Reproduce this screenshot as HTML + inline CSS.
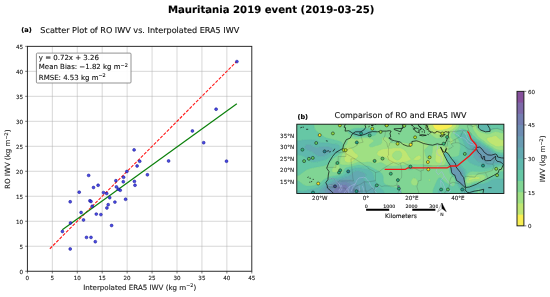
<!DOCTYPE html>
<html lang="en"><head><meta charset="utf-8"><title>Mauritania 2019 event (2019-03-25)</title>
<style>
html,body{margin:0;padding:0;background:#fff;}
body{width:550px;height:297px;overflow:hidden;}
svg{display:block;text-rendering:geometricPrecision;font-family:"DejaVu Sans","Liberation Sans",sans-serif;fill:#1a1a1a;}
.tk{font-size:5.6px;fill:#222;}
text{stroke:#222;stroke-width:0.12px;paint-order:stroke;}
</style></head><body>
<svg width="550" height="297" viewBox="0 0 550 297">
<rect width="550" height="297" fill="#fff"/>
<text x="271.2" y="12.5" font-size="10.12" font-weight="bold" text-anchor="middle" fill="#000">Mauritania 2019 event (2019-03-25)</text>

<g id="panel-a">
<text x="21.3" y="32.3" font-size="6.6" font-weight="bold" fill="#000">(a)</text>
<text x="139.8" y="32.55" font-size="8.1" text-anchor="middle" fill="#111">Scatter Plot of RO IWV vs. Interpolated ERA5 IWV</text>
<path d="M52.33 46.35V271.25M27.4 246.26H251.8M77.27 46.35V271.25M27.4 221.27H251.8M102.20 46.35V271.25M27.4 196.28H251.8M127.13 46.35V271.25M27.4 171.29H251.8M152.07 46.35V271.25M27.4 146.31H251.8M177.00 46.35V271.25M27.4 121.32H251.8M201.93 46.35V271.25M27.4 96.33H251.8M226.87 46.35V271.25M27.4 71.34H251.8" stroke="#b0b0b0" stroke-opacity="0.9" stroke-width="0.55" fill="none"/>
<path d="M49.84 248.76L236.84 61.34" stroke="#ff1a1a" stroke-width="1.1" stroke-dasharray="3.2 1.4" fill="none"/>
<path d="M62.31 229.77L236.84 103.82" stroke="#0a800a" stroke-width="1.2" fill="none"/>
<g fill="#2a2ae0" fill-opacity="0.85" stroke="#15158a" stroke-width="0.5">
<circle cx="88.65" cy="175.4" r="1.45"/>
<circle cx="93.5" cy="187.5" r="1.45"/>
<circle cx="98.1" cy="185.3" r="1.45"/>
<circle cx="79.2" cy="192.2" r="1.45"/>
<circle cx="115.9" cy="180.7" r="1.45"/>
<circle cx="116.4" cy="186.9" r="1.45"/>
<circle cx="103.5" cy="192.6" r="1.45"/>
<circle cx="106.7" cy="193.5" r="1.45"/>
<circle cx="70.2" cy="201.8" r="1.45"/>
<circle cx="89.9" cy="200.8" r="1.45"/>
<circle cx="91.0" cy="201.5" r="1.45"/>
<circle cx="92.2" cy="206.3" r="1.45"/>
<circle cx="81.1" cy="212.5" r="1.45"/>
<circle cx="83.5" cy="220.0" r="1.45"/>
<circle cx="70.5" cy="223.0" r="1.45"/>
<circle cx="62.4" cy="231.5" r="1.45"/>
<circle cx="96.3" cy="214.1" r="1.45"/>
<circle cx="100.9" cy="214.6" r="1.45"/>
<circle cx="106.9" cy="208.0" r="1.45"/>
<circle cx="108.2" cy="204.7" r="1.45"/>
<circle cx="114.9" cy="202.1" r="1.45"/>
<circle cx="109.7" cy="197.7" r="1.45"/>
<circle cx="111.6" cy="225.5" r="1.45"/>
<circle cx="86.5" cy="237.4" r="1.45"/>
<circle cx="91.0" cy="237.4" r="1.45"/>
<circle cx="95.3" cy="241.7" r="1.45"/>
<circle cx="70.2" cy="249.0" r="1.45"/>
<circle cx="139.7" cy="161.3" r="1.45"/>
<circle cx="137.1" cy="166.0" r="1.45"/>
<circle cx="168.6" cy="161.0" r="1.45"/>
<circle cx="126.9" cy="171.5" r="1.45"/>
<circle cx="147.4" cy="174.8" r="1.45"/>
<circle cx="123.6" cy="177.3" r="1.45"/>
<circle cx="123.3" cy="181.8" r="1.45"/>
<circle cx="134.4" cy="181.4" r="1.45"/>
<circle cx="135.0" cy="185.3" r="1.45"/>
<circle cx="120.2" cy="190.3" r="1.45"/>
<circle cx="134.1" cy="149.9" r="1.45"/>
<circle cx="236.9" cy="61.6" r="1.45"/>
<circle cx="216.1" cy="109.2" r="1.45"/>
<circle cx="192.4" cy="131.0" r="1.45"/>
<circle cx="203.7" cy="142.7" r="1.45"/>
<circle cx="226.5" cy="161.2" r="1.45"/>
<circle cx="125.6" cy="199.3" r="1.45"/>
<circle cx="118.3" cy="189.2" r="1.45"/>
</g>
<rect x="27.4" y="46.35" width="224.40" height="224.90" fill="none" stroke="#222" stroke-width="0.95"/>
<path d="M27.40 271.25v2.2M27.4 271.25h-2.2M52.33 271.25v2.2M27.4 246.26h-2.2M77.27 271.25v2.2M27.4 221.27h-2.2M102.20 271.25v2.2M27.4 196.28h-2.2M127.13 271.25v2.2M27.4 171.29h-2.2M152.07 271.25v2.2M27.4 146.31h-2.2M177.00 271.25v2.2M27.4 121.32h-2.2M201.93 271.25v2.2M27.4 96.33h-2.2M226.87 271.25v2.2M27.4 71.34h-2.2M251.80 271.25v2.2M27.4 46.35h-2.2" stroke="#222" stroke-width="0.6" fill="none"/>
<g class="tk" text-anchor="middle">
<text x="27.40" y="280.1">0</text>
<text x="52.33" y="280.1">5</text>
<text x="77.27" y="280.1">10</text>
<text x="102.20" y="280.1">15</text>
<text x="127.13" y="280.1">20</text>
<text x="152.07" y="280.1">25</text>
<text x="177.00" y="280.1">30</text>
<text x="201.93" y="280.1">35</text>
<text x="226.87" y="280.1">40</text>
<text x="251.80" y="280.1">45</text>
</g><g class="tk" text-anchor="end">
<text x="23" y="273.55">0</text>
<text x="23" y="248.56">5</text>
<text x="23" y="223.57">10</text>
<text x="23" y="198.58">15</text>
<text x="23" y="173.59">20</text>
<text x="23" y="148.61">25</text>
<text x="23" y="123.62">30</text>
<text x="23" y="98.63">35</text>
<text x="23" y="73.64">40</text>
<text x="23" y="48.65">45</text>
</g>
<text x="139.7" y="289.8" font-size="7.09" text-anchor="middle" fill="#222">Interpolated ERA5 IWV (kg m<tspan font-size="4.9" dy="-2.6">−2</tspan><tspan dy="2.6">)</tspan></text>
<text transform="translate(9.75 159.2) rotate(-90)" font-size="7.09" text-anchor="middle" fill="#222">RO IWV (kg m<tspan font-size="4.9" dy="-1.7">−2</tspan><tspan dy="1.7">)</tspan></text>
<rect x="36.4" y="53.1" width="94.6" height="29.9" rx="1.0" fill="#fff" fill-opacity="0.9" stroke="#808080" stroke-width="0.85"/>
<g font-size="7" fill="#111">
<text x="38.8" y="59.6">y = 0.72x + 3.26</text>
<text x="38.8" y="69.2">Mean Bias: −1.82 kg m<tspan font-size="4.9" dy="-2.6">−2</tspan></text>
<text x="38.8" y="79.9">RMSE: 4.53 kg m<tspan font-size="4.9" dy="-2.6">−2</tspan></text>
</g>
</g>
<g id="panel-b">
<text x="297.5" y="118.5" font-size="6.5" font-weight="bold" fill="#000">(b)</text>
<text x="400.5" y="118.2" font-size="8" text-anchor="middle" fill="#111">Comparison of RO and ERA5 IWV</text>
<clipPath id="mc"><rect x="296.8" y="124.2" width="207.10" height="69.30"/></clipPath>
<g clip-path="url(#mc)">
<filter id="bl" x="-5%" y="-5%" width="110%" height="110%"><feGaussianBlur stdDeviation="0.4"/></filter>
<rect x="280" y="110" width="240" height="100" fill="#80d594"/>
<g stroke-width="0.35" stroke-linejoin="round">
<path stroke="#f8ee52" d="M433.6 121.3L434.7 121.3L435.8 121.3L437.0 121.3L438.1 121.3L439.2 121.3L440.3 121.3L441.5 121.3L442.6 121.3L443.7 121.3L444.8 121.3L446.0 121.3L447.1 121.3L448.2 121.3L449.3 121.3L450.5 121.3L451.5 121.3L451.6 121.7L451.7 122.4L452.1 123.5L452.5 124.6L452.4 125.7L451.6 126.7L451.6 126.8L450.5 127.4L449.7 127.8L449.3 128.0L448.2 128.4L447.1 128.9L446.9 128.9L446.0 129.2L444.8 129.4L443.7 129.7L442.6 129.9L441.8 130.0L441.5 130.1L440.3 130.2L439.2 130.2L438.1 130.1L437.5 130.0L437.0 129.9L435.8 129.4L435.1 128.9L434.7 128.6L434.0 127.8L433.6 127.3L433.3 126.8L433.0 125.7L433.0 124.6L433.1 123.5L433.3 122.4L433.3 121.3Z" fill="#f8ee52" fill-rule="evenodd"/>
<path stroke="#bfe672" d="M429.1 121.3L430.2 121.3L431.3 121.3L432.4 121.3L433.3 121.3L433.3 122.4L433.1 123.5L433.0 124.6L433.0 125.7L433.3 126.8L433.6 127.3L434.0 127.8L434.7 128.6L435.1 128.9L435.8 129.4L437.0 129.9L437.5 130.0L438.1 130.1L439.2 130.2L440.3 130.2L441.5 130.1L441.8 130.0L442.6 129.9L443.7 129.7L444.8 129.4L446.0 129.2L446.9 128.9L447.1 128.9L448.2 128.4L449.3 128.0L449.7 127.8L450.5 127.4L451.6 126.8L451.6 126.7L452.4 125.7L452.5 124.6L452.1 123.5L451.7 122.4L451.6 121.7L451.5 121.3L451.6 121.3L452.7 121.3L453.8 121.3L455.0 121.3L455.9 121.3L456.1 122.4L456.1 122.5L456.3 123.5L456.4 124.6L456.4 125.7L456.1 126.5L456.0 126.8L455.0 127.8L455.0 127.9L453.8 128.7L453.5 128.9L452.7 129.4L451.7 130.0L451.6 130.1L450.5 130.8L450.1 131.1L449.3 131.7L448.5 132.2L448.2 132.4L447.1 133.0L446.1 133.3L446.0 133.3L444.8 133.6L443.7 133.8L442.6 134.0L441.5 134.2L440.9 134.4L440.3 134.5L439.2 134.7L438.1 134.8L437.0 134.6L436.3 134.4L435.8 134.2L434.7 133.7L434.1 133.3L433.6 132.9L432.6 132.2L432.4 132.0L431.5 131.1L431.3 130.9L430.6 130.0L430.2 129.5L429.8 128.9L429.2 127.8L429.1 127.6L428.7 126.8L428.5 125.7L428.5 124.6L428.6 123.5L428.7 122.4L428.8 121.3ZM492.1 136.4L493.3 136.0L494.4 135.6L495.5 135.5L496.6 136.1L497.2 136.5L497.8 137.1L498.3 137.6L498.9 138.3L499.5 138.7L500.0 139.1L501.1 139.6L502.2 139.8L502.3 139.8L503.4 139.9L504.3 139.8L504.5 139.8L505.7 139.7L506.8 139.6L506.8 139.8L506.8 140.9L506.8 142.0L506.8 143.1L506.8 144.2L506.8 145.2L506.8 146.1L505.7 146.1L504.5 146.0L503.4 145.9L502.3 146.0L501.1 146.1L500.5 146.3L500.0 146.4L498.9 146.7L497.8 146.8L496.6 146.7L495.5 146.4L495.5 146.3L494.4 145.8L493.4 145.2L493.3 145.2L492.1 144.5L491.6 144.2L491.0 143.8L489.9 143.1L489.8 143.1L488.8 142.2L488.5 142.0L487.6 141.1L487.5 140.9L486.8 139.8L486.5 139.0L486.4 138.7L486.5 138.4L487.1 137.6L487.6 137.5L488.8 137.2L489.9 137.0L491.0 136.7L491.6 136.5ZM348.0 147.4L349.1 147.3L349.7 147.4L350.2 147.6L351.4 148.2L351.7 148.5L352.5 149.4L352.7 149.6L353.5 150.7L353.6 150.9L354.3 151.8L354.7 152.3L355.4 152.9L355.9 153.3L356.9 154.0L357.0 154.1L358.0 155.0L358.1 155.4L358.3 156.1L358.1 156.5L357.7 157.2L357.0 157.8L356.5 158.3L355.9 158.7L355.2 159.4L354.7 159.7L354.0 160.5L353.6 160.8L352.7 161.6L352.5 161.7L351.4 162.2L350.2 162.6L349.6 162.7L349.1 162.7L348.0 162.7L347.8 162.7L346.9 162.4L345.7 161.9L345.2 161.6L344.6 160.7L344.5 160.5L344.3 159.4L344.2 158.3L344.3 157.2L344.5 156.1L344.5 155.0L344.6 154.0L344.6 153.5L344.6 152.9L344.8 151.8L345.0 150.7L345.4 149.6L345.7 149.0L346.1 148.5L346.9 147.8L347.8 147.4ZM385.1 148.5L386.3 148.4L387.4 148.3L388.5 148.3L389.7 148.2L390.8 148.2L391.9 148.2L393.0 148.1L394.2 148.1L395.3 148.0L396.4 147.9L397.5 147.8L398.7 147.8L399.8 147.9L400.9 148.1L402.0 148.5L402.1 148.5L403.2 149.1L404.0 149.6L404.3 149.8L405.3 150.7L405.4 150.8L406.2 151.8L406.5 152.2L406.9 152.9L407.5 154.0L407.7 154.3L408.0 155.0L408.7 156.1L408.8 156.3L409.5 157.2L409.9 157.8L410.6 158.3L411.0 159.0L412.0 159.4L411.0 159.6L409.9 160.2L409.7 160.5L408.8 160.8L407.7 161.2L407.0 161.6L406.5 161.7L405.4 162.0L404.3 162.3L403.2 162.5L402.0 162.6L400.9 162.5L399.8 162.3L398.7 162.2L397.5 162.2L396.4 162.4L395.7 162.7L395.3 162.7L394.2 162.9L393.0 163.0L391.9 162.9L390.8 162.7L390.7 162.7L389.7 162.0L389.1 161.6L388.5 160.9L388.2 160.5L387.5 159.4L387.4 159.3L386.5 158.3L386.3 158.1L385.1 157.5L384.3 157.2L384.0 157.1L382.9 156.9L381.8 156.8L380.6 156.6L379.5 156.4L378.7 156.1L378.4 156.0L377.3 155.0L377.3 155.0L376.9 154.0L377.0 152.9L377.3 152.3L377.5 151.8L378.4 150.8L378.5 150.7L379.5 150.1L380.4 149.6L380.6 149.5L381.8 149.2L382.9 148.9L384.0 148.7L385.0 148.5ZM395.0 151.8L394.2 152.4L393.7 152.9L393.0 153.8L392.9 154.0L392.4 155.0L392.4 156.1L393.0 157.2L393.0 157.3L393.9 158.3L394.2 158.5L395.3 159.3L395.4 159.4L396.4 160.0L397.5 160.2L398.7 159.8L399.2 159.4L399.8 158.9L400.3 158.3L400.9 157.5L401.1 157.2L401.6 156.1L401.8 155.0L401.7 154.0L401.3 152.9L400.9 152.3L400.3 151.8L399.8 151.4L398.7 151.0L397.5 150.9L396.4 151.1L395.3 151.6ZM439.2 148.5L439.7 148.5L440.3 148.5L441.5 148.8L442.6 149.2L443.2 149.6L443.7 150.1L444.1 150.7L444.4 151.8L444.3 152.9L444.2 154.0L444.0 155.0L443.8 156.1L443.7 157.2L443.7 158.3L443.7 158.5L443.6 159.4L443.4 160.5L443.0 161.6L442.6 162.0L441.7 162.7L441.5 162.8L440.3 163.0L439.2 163.1L438.1 163.0L437.0 162.7L436.9 162.7L435.8 161.8L435.7 161.6L435.2 160.5L435.1 159.4L435.2 158.3L435.3 157.2L435.4 156.1L435.5 155.0L435.5 154.0L435.5 152.9L435.7 151.8L435.8 151.1L435.9 150.7L436.6 149.6L437.0 149.3L438.1 148.7L439.1 148.5ZM416.7 156.1L417.8 155.5L418.9 155.3L420.1 155.6L420.6 156.1L421.0 157.2L420.9 158.3L420.3 159.4L420.1 159.6L418.9 160.1L417.8 160.4L417.1 160.5L416.7 160.5L415.6 160.5L415.5 160.5L414.4 160.2L413.3 159.6L412.4 159.4L413.3 159.1L414.1 158.3L414.4 158.1L415.4 157.2L415.6 157.1L416.6 156.1ZM477.5 176.8L477.6 176.8L478.6 176.9L479.7 177.3L480.5 177.9L479.7 178.8L479.6 179.0L478.6 179.2L477.5 179.3L476.4 179.4L475.2 179.4L474.1 179.4L473.0 179.5L471.9 179.8L471.4 180.1L470.7 180.3L469.6 180.5L468.5 180.1L468.5 180.1L468.5 179.6L468.5 179.0L469.5 177.9L469.6 177.8L470.7 177.5L471.9 177.4L473.0 177.4L474.1 177.2L475.2 177.0L476.4 176.8L477.2 176.8Z" fill="#bfe672" fill-rule="evenodd"/>
<path stroke="#9fe083" d="M425.7 121.3L426.8 121.3L427.9 121.3L428.8 121.3L428.7 122.4L428.6 123.5L428.5 124.6L428.5 125.7L428.7 126.8L429.1 127.6L429.2 127.8L429.8 128.9L430.2 129.5L430.6 130.0L431.3 130.9L431.5 131.1L432.4 132.0L432.6 132.2L433.6 132.9L434.1 133.3L434.7 133.7L435.8 134.2L436.3 134.4L437.0 134.6L438.1 134.8L439.2 134.7L440.3 134.5L440.9 134.4L441.5 134.2L442.6 134.0L443.7 133.8L444.8 133.6L446.0 133.3L446.1 133.3L447.1 133.0L448.2 132.4L448.5 132.2L449.3 131.7L450.1 131.1L450.5 130.8L451.6 130.1L451.7 130.0L452.7 129.4L453.5 128.9L453.8 128.7L455.0 127.9L455.0 127.8L456.0 126.8L456.1 126.5L456.4 125.7L456.4 124.6L456.3 123.5L456.1 122.5L456.1 122.4L455.9 121.3L456.1 121.3L457.2 121.3L458.3 121.3L458.9 121.3L459.0 122.4L459.2 123.5L459.4 124.6L459.3 125.7L459.0 126.8L458.3 127.6L458.2 127.8L457.2 128.7L456.9 128.9L456.1 129.5L455.3 130.0L455.0 130.2L453.8 131.0L453.7 131.1L452.7 132.0L452.5 132.2L451.7 133.3L451.6 133.5L451.1 134.4L450.8 135.5L450.7 136.5L451.0 137.6L451.6 138.2L452.2 138.7L452.7 139.2L453.2 139.8L453.5 140.9L453.2 142.0L452.7 142.8L452.4 143.1L451.6 143.8L450.9 144.2L450.5 144.4L450.0 144.2L449.7 143.1L449.7 142.0L449.7 140.9L449.7 139.8L449.4 138.7L449.3 138.6L448.3 137.6L448.2 137.6L447.1 137.2L446.0 137.0L444.8 136.8L443.7 136.9L442.6 137.1L441.5 137.4L440.9 137.6L440.3 137.9L439.2 138.3L438.1 138.6L437.0 138.6L435.8 138.3L434.8 137.6L434.7 137.6L433.6 136.8L433.2 136.5L432.4 136.0L431.8 135.5L431.3 135.0L430.6 134.4L430.2 133.9L429.7 133.3L429.1 132.5L428.8 132.2L427.9 131.1L427.9 131.1L427.0 130.0L426.8 129.7L426.1 128.9L425.7 128.3L425.4 127.8L424.9 126.8L424.7 125.7L424.7 124.6L424.7 123.5L424.9 122.4L424.9 121.3ZM473.0 121.3L474.1 121.3L475.2 121.3L476.4 121.3L476.4 121.3L476.4 121.6L476.3 122.4L476.2 123.5L476.2 124.6L476.2 125.7L476.4 126.8L476.4 126.8L476.6 127.8L477.0 128.9L477.5 129.5L477.8 130.0L478.6 130.8L479.0 131.1L479.7 131.5L480.9 132.0L481.3 132.2L482.0 132.4L483.1 132.8L484.3 133.1L485.1 133.3L485.4 133.4L486.5 133.6L487.6 133.8L488.8 133.8L489.9 133.6L490.7 133.3L491.0 133.2L492.1 132.6L493.1 132.2L493.3 132.1L494.4 131.7L495.5 131.5L496.6 131.6L497.8 131.8L498.9 132.1L499.2 132.2L500.0 132.5L501.1 132.9L502.3 133.1L503.4 133.1L504.5 133.1L505.7 133.0L506.8 133.0L506.8 133.3L506.8 134.4L506.8 135.5L506.8 136.5L506.8 137.6L506.8 138.7L506.8 139.6L505.7 139.7L504.5 139.8L504.3 139.8L503.4 139.9L502.3 139.8L502.2 139.8L501.1 139.6L500.0 139.1L499.5 138.7L498.9 138.3L498.3 137.6L497.8 137.1L497.2 136.5L496.6 136.1L495.5 135.5L494.4 135.6L493.3 136.0L492.1 136.4L491.6 136.5L491.0 136.7L489.9 137.0L488.8 137.2L487.6 137.5L487.1 137.6L486.5 138.4L486.4 138.7L486.5 139.0L486.8 139.8L487.5 140.9L487.6 141.1L488.5 142.0L488.8 142.2L489.8 143.1L489.9 143.1L491.0 143.8L491.6 144.2L492.1 144.5L493.3 145.2L493.4 145.2L494.4 145.8L495.5 146.3L495.5 146.4L496.6 146.7L497.8 146.8L498.9 146.7L500.0 146.4L500.5 146.3L501.1 146.1L502.3 146.0L503.4 145.9L504.5 146.0L505.7 146.1L506.8 146.1L506.8 146.3L506.8 147.4L506.8 148.5L506.8 149.6L506.8 150.1L505.7 150.1L504.5 150.1L503.4 150.1L502.3 150.1L501.1 150.1L500.0 150.1L498.9 150.1L497.8 149.9L496.6 149.6L496.5 149.6L495.5 149.2L494.4 148.5L494.4 148.5L493.3 147.7L492.8 147.4L492.1 146.9L491.2 146.3L491.0 146.2L489.9 145.5L489.4 145.2L488.8 144.9L487.6 144.2L487.6 144.2L486.5 143.4L486.1 143.1L485.4 142.5L484.8 142.0L484.3 141.5L483.5 140.9L483.1 140.6L482.0 139.8L481.9 139.8L480.9 139.1L480.3 138.7L479.7 138.3L478.8 137.6L478.6 137.4L477.8 136.5L477.5 136.2L477.0 135.5L476.4 134.5L476.3 134.4L475.6 133.3L475.2 132.7L474.9 132.2L474.1 131.1L474.1 131.1L473.4 130.0L473.0 129.1L472.9 128.9L472.5 127.8L472.3 126.8L472.2 125.7L472.2 124.6L472.2 123.5L472.3 122.4L472.3 121.3ZM382.9 137.3L384.0 136.9L385.1 136.7L386.3 136.9L387.4 137.4L387.8 137.6L388.5 138.3L388.9 138.7L389.5 139.8L389.7 140.4L389.8 140.9L390.4 142.0L390.8 142.3L391.9 142.8L393.0 143.0L394.2 142.9L395.3 142.8L396.4 142.7L397.5 142.6L398.7 142.5L399.8 142.4L400.9 142.3L402.0 142.3L403.2 142.4L404.3 142.6L405.4 142.9L406.2 143.1L406.5 143.1L407.7 143.3L408.8 143.2L409.1 143.1L409.9 142.8L411.0 142.3L411.6 142.0L412.2 141.7L413.3 141.3L414.4 141.0L414.7 140.9L415.6 140.7L416.7 140.5L417.8 140.3L418.9 140.2L420.1 140.2L421.2 140.4L422.3 140.7L422.9 140.9L423.4 141.2L424.6 141.8L424.9 142.0L425.7 142.6L426.5 143.1L426.8 143.4L427.9 144.1L428.0 144.2L428.9 145.2L428.5 146.3L427.9 146.8L427.3 147.4L426.8 147.8L426.0 148.5L425.7 148.8L424.8 149.6L424.6 150.5L424.5 150.7L424.6 150.9L424.7 151.8L425.0 152.9L425.2 154.0L425.5 155.0L425.7 155.7L425.9 156.1L426.4 157.2L426.8 158.0L427.2 158.3L427.9 158.8L429.1 158.7L429.6 158.3L430.2 157.9L430.6 157.2L431.3 156.1L431.3 156.0L431.6 155.0L431.9 154.0L432.1 152.9L432.2 151.8L432.3 150.7L432.4 149.6L432.4 148.5L432.4 147.6L432.5 147.4L433.0 146.3L433.6 146.0L434.7 145.7L435.8 145.5L437.0 145.5L438.1 145.6L439.2 145.7L440.3 145.8L441.5 146.0L442.6 146.1L443.7 146.2L444.8 146.2L446.0 146.2L447.1 146.2L448.2 146.3L448.3 146.3L448.7 147.4L448.8 148.5L448.7 149.6L448.7 150.7L448.5 151.8L448.3 152.9L448.2 153.0L447.9 154.0L447.5 155.0L447.1 156.1L447.1 156.2L446.8 157.2L446.5 158.3L446.3 159.4L446.1 160.5L446.0 161.6L446.0 161.6L445.7 162.7L445.4 163.7L444.8 164.6L444.6 164.8L443.7 165.4L442.6 165.7L441.5 165.9L441.1 165.9L440.3 166.1L439.2 166.2L438.1 166.4L437.0 166.5L435.8 166.6L434.7 166.7L433.6 166.7L432.4 166.6L431.3 166.3L430.4 165.9L430.2 165.8L429.1 165.3L428.0 164.8L427.9 164.8L426.8 164.5L425.7 164.4L424.6 164.4L423.4 164.5L422.3 164.6L421.2 164.6L420.1 164.7L418.9 164.7L417.8 164.7L416.7 164.7L415.6 164.7L414.4 164.6L413.3 164.5L412.2 164.4L411.0 164.3L409.9 164.3L408.8 164.3L407.7 164.5L406.5 164.7L405.6 164.8L405.4 164.9L404.3 165.1L403.2 165.3L402.0 165.4L400.9 165.6L399.8 165.6L398.7 165.7L397.5 165.8L396.4 165.9L395.6 165.9L395.3 165.9L394.2 166.0L393.0 166.1L391.9 166.1L390.8 166.1L389.7 166.1L388.5 165.9L388.5 165.9L387.4 165.7L386.3 165.3L385.3 164.8L385.1 164.7L384.0 164.0L383.7 163.7L382.9 163.3L381.8 162.8L381.1 162.7L380.6 162.6L379.5 162.6L379.4 162.7L378.4 162.9L377.3 163.2L376.1 163.4L375.0 163.4L373.9 163.3L372.8 163.0L371.8 162.7L371.6 162.6L370.5 162.2L369.4 162.0L368.3 162.0L367.1 162.1L366.0 162.3L364.9 162.5L363.7 162.6L362.6 162.6L361.5 162.5L360.4 162.3L359.2 162.2L358.1 162.2L357.0 162.5L356.5 162.7L355.9 162.9L354.7 163.4L354.0 163.7L353.6 163.9L352.5 164.3L351.4 164.6L350.3 164.8L350.2 164.8L349.1 165.0L348.0 165.0L346.9 165.0L345.7 165.0L344.6 165.0L343.5 164.9L342.4 164.9L341.9 164.8L341.2 164.8L340.1 164.5L339.7 163.7L339.7 162.7L339.7 161.6L339.8 160.5L340.0 159.4L340.1 159.2L340.3 158.3L340.7 157.2L341.2 156.1L341.2 156.1L341.7 155.0L342.1 154.0L342.4 153.4L342.5 152.9L342.8 151.8L343.1 150.7L343.4 149.6L343.5 149.3L343.8 148.5L344.2 147.4L344.6 146.6L344.8 146.3L345.5 145.2L345.7 144.9L346.4 144.2L346.9 143.3L347.1 143.1L347.4 142.0L347.6 140.9L347.9 139.8L348.0 139.6L348.7 138.7L349.1 138.5L350.2 138.1L351.4 138.1L352.5 138.3L353.6 138.5L354.4 138.7L354.7 138.8L355.9 139.1L357.0 139.1L358.1 138.9L358.7 138.7L359.2 138.6L360.4 138.3L361.5 138.1L362.6 137.9L363.7 137.8L364.9 137.7L366.0 137.8L367.1 137.9L368.3 138.1L369.4 138.3L370.5 138.6L371.3 138.7L371.6 138.9L372.8 139.4L373.5 139.8L373.8 140.9L373.1 142.0L372.8 142.3L371.6 143.1L371.6 143.1L370.5 143.9L370.1 144.2L369.4 145.0L369.2 145.2L369.4 146.0L369.5 146.3L370.5 146.8L371.6 146.8L372.8 146.7L373.9 146.4L374.1 146.3L375.0 146.0L376.1 145.6L377.3 145.3L377.5 145.2L378.4 144.9L379.5 144.5L380.2 144.2L380.6 143.9L381.5 143.1L381.8 142.3L381.9 142.0L381.8 140.9L381.8 140.7L381.7 139.8L381.8 139.0L381.8 138.7L382.5 137.6ZM347.8 147.4L346.9 147.8L346.1 148.5L345.7 149.0L345.4 149.6L345.0 150.7L344.8 151.8L344.6 152.9L344.6 153.5L344.6 154.0L344.5 155.0L344.5 156.1L344.3 157.2L344.2 158.3L344.3 159.4L344.5 160.5L344.6 160.7L345.2 161.6L345.7 161.9L346.9 162.4L347.8 162.7L348.0 162.7L349.1 162.7L349.6 162.7L350.2 162.6L351.4 162.2L352.5 161.7L352.7 161.6L353.6 160.8L354.0 160.5L354.7 159.7L355.2 159.4L355.9 158.7L356.5 158.3L357.0 157.8L357.7 157.2L358.1 156.5L358.3 156.1L358.1 155.4L358.0 155.0L357.0 154.1L356.9 154.0L355.9 153.3L355.4 152.9L354.7 152.3L354.3 151.8L353.6 150.9L353.5 150.7L352.7 149.6L352.5 149.4L351.7 148.5L351.4 148.2L350.2 147.6L349.7 147.4L349.1 147.3L348.0 147.4ZM385.0 148.5L384.0 148.7L382.9 148.9L381.8 149.2L380.6 149.5L380.4 149.6L379.5 150.1L378.5 150.7L378.4 150.8L377.5 151.8L377.3 152.3L377.0 152.9L376.9 154.0L377.3 155.0L377.3 155.0L378.4 156.0L378.7 156.1L379.5 156.4L380.6 156.6L381.8 156.8L382.9 156.9L384.0 157.1L384.3 157.2L385.1 157.5L386.3 158.1L386.5 158.3L387.4 159.3L387.5 159.4L388.2 160.5L388.5 160.9L389.1 161.6L389.7 162.0L390.7 162.7L390.8 162.7L391.9 162.9L393.0 163.0L394.2 162.9L395.3 162.7L395.7 162.7L396.4 162.4L397.5 162.2L398.7 162.2L399.8 162.3L400.9 162.5L402.0 162.6L403.2 162.5L404.3 162.3L405.4 162.0L406.5 161.7L407.0 161.6L407.7 161.2L408.8 160.8L409.7 160.5L409.9 160.2L411.0 159.6L412.0 159.4L411.0 159.0L410.6 158.3L409.9 157.8L409.5 157.2L408.8 156.3L408.7 156.1L408.0 155.0L407.7 154.3L407.5 154.0L406.9 152.9L406.5 152.2L406.2 151.8L405.4 150.8L405.3 150.7L404.3 149.8L404.0 149.6L403.2 149.1L402.1 148.5L402.0 148.5L400.9 148.1L399.8 147.9L398.7 147.8L397.5 147.8L396.4 147.9L395.3 148.0L394.2 148.1L393.0 148.1L391.9 148.2L390.8 148.2L389.7 148.2L388.5 148.3L387.4 148.3L386.3 148.4L385.1 148.5ZM439.1 148.5L438.1 148.7L437.0 149.3L436.6 149.6L435.9 150.7L435.8 151.1L435.7 151.8L435.5 152.9L435.5 154.0L435.5 155.0L435.4 156.1L435.3 157.2L435.2 158.3L435.1 159.4L435.2 160.5L435.7 161.6L435.8 161.8L436.9 162.7L437.0 162.7L438.1 163.0L439.2 163.1L440.3 163.0L441.5 162.8L441.7 162.7L442.6 162.0L443.0 161.6L443.4 160.5L443.6 159.4L443.7 158.5L443.7 158.3L443.7 157.2L443.8 156.1L444.0 155.0L444.2 154.0L444.3 152.9L444.4 151.8L444.1 150.7L443.7 150.1L443.2 149.6L442.6 149.2L441.5 148.8L440.3 148.5L439.7 148.5L439.2 148.5ZM416.6 156.1L415.6 157.1L415.4 157.2L414.4 158.1L414.1 158.3L413.3 159.1L412.4 159.4L413.3 159.6L414.4 160.2L415.5 160.5L415.6 160.5L416.7 160.5L417.1 160.5L417.8 160.4L418.9 160.1L420.1 159.6L420.3 159.4L420.9 158.3L421.0 157.2L420.6 156.1L420.1 155.6L418.9 155.3L417.8 155.5L416.7 156.1ZM395.3 151.6L396.4 151.1L397.5 150.9L398.7 151.0L399.8 151.4L400.3 151.8L400.9 152.3L401.3 152.9L401.7 154.0L401.8 155.0L401.6 156.1L401.1 157.2L400.9 157.5L400.3 158.3L399.8 158.9L399.2 159.4L398.7 159.8L397.5 160.2L396.4 160.0L395.4 159.4L395.3 159.3L394.2 158.5L393.9 158.3L393.0 157.3L393.0 157.2L392.4 156.1L392.4 155.0L392.9 154.0L393.0 153.8L393.7 152.9L394.2 152.4L395.0 151.8ZM335.6 164.7L336.7 164.3L337.8 164.4L339.0 164.6L339.6 164.8L339.7 165.9L339.8 167.0L339.8 168.1L339.8 169.2L339.5 170.3L339.0 171.3L338.9 171.4L337.8 172.1L336.9 172.5L336.7 172.5L335.6 172.6L334.5 172.6L333.5 172.5L333.3 172.4L332.2 171.7L331.8 171.4L331.7 170.3L332.1 169.2L332.2 168.9L332.7 168.1L333.3 167.1L333.4 167.0L334.2 165.9L334.5 165.6L335.4 164.8ZM471.9 174.6L473.0 174.5L474.1 174.4L475.2 174.4L476.4 174.4L477.5 174.4L478.6 174.4L479.7 174.4L480.9 174.5L481.8 174.6L482.0 174.6L483.1 174.8L484.3 175.2L485.1 175.7L485.4 176.3L485.5 176.8L485.4 177.3L485.3 177.9L484.6 179.0L484.3 179.3L483.2 180.1L483.1 180.1L482.0 180.5L480.9 180.8L479.7 181.0L478.6 181.1L478.4 181.2L477.5 181.2L476.4 181.3L475.2 181.4L474.1 181.6L473.0 181.9L471.9 182.2L471.9 182.3L470.7 182.8L469.6 183.3L469.4 183.3L468.5 183.6L467.4 183.5L467.1 183.3L466.2 182.3L466.2 182.2L466.1 181.2L466.1 180.1L466.2 179.1L466.3 179.0L466.7 177.9L467.3 176.8L467.4 176.7L468.3 175.7L468.5 175.6L469.6 175.0L470.7 174.7L471.4 174.6ZM477.2 176.8L476.4 176.8L475.2 177.0L474.1 177.2L473.0 177.4L471.9 177.4L470.7 177.5L469.6 177.8L469.5 177.9L468.5 179.0L468.5 179.6L468.5 180.1L468.5 180.1L469.6 180.5L470.7 180.3L471.4 180.1L471.9 179.8L473.0 179.5L474.1 179.4L475.2 179.4L476.4 179.4L477.5 179.3L478.6 179.2L479.6 179.0L479.7 178.8L480.5 177.9L479.7 177.3L478.6 176.9L477.6 176.8L477.5 176.8ZM414.4 177.9L414.6 177.9L415.6 178.2L416.4 179.0L416.7 179.4L417.1 180.1L417.6 181.2L417.8 181.7L418.0 182.2L418.0 183.3L417.8 183.9L417.6 184.4L416.7 185.1L415.9 185.5L415.6 185.6L414.4 185.7L413.3 185.6L413.1 185.5L412.2 185.0L411.6 184.4L411.1 183.3L411.0 183.0L411.0 182.2L411.0 181.3L411.1 181.2L411.4 180.1L412.0 179.0L412.2 178.8L413.3 178.0L414.1 177.9ZM429.1 178.8L429.7 179.0L430.2 179.3L430.4 180.1L430.2 181.1L430.1 181.2L429.1 181.3L428.9 181.2L428.5 180.1L428.9 179.0Z" fill="#9fe083" fill-rule="evenodd"/>
<path stroke="#80d594" d="M314.2 121.3L315.3 121.3L316.4 121.3L317.6 121.3L318.7 121.3L319.8 121.3L321.0 121.3L322.1 121.3L323.2 121.3L324.3 121.3L325.5 121.3L326.6 121.3L327.7 121.3L328.8 121.3L330.0 121.3L331.1 121.3L332.2 121.3L333.3 121.3L334.5 121.3L335.6 121.3L336.7 121.3L337.8 121.3L339.0 121.3L340.1 121.3L341.2 121.3L342.4 121.3L343.5 121.3L344.6 121.3L345.7 121.3L346.9 121.3L348.0 121.3L349.1 121.3L350.2 121.3L351.4 121.3L352.5 121.3L353.6 121.3L354.7 121.3L355.9 121.3L357.0 121.3L358.1 121.3L359.2 121.3L360.4 121.3L361.5 121.3L362.6 121.3L363.7 121.3L364.9 121.3L366.0 121.3L367.1 121.3L368.3 121.3L369.4 121.3L370.5 121.3L371.6 121.3L372.8 121.3L373.9 121.3L375.0 121.3L376.1 121.3L377.3 121.3L378.4 121.3L379.5 121.3L380.6 121.3L381.8 121.3L382.9 121.3L384.0 121.3L385.1 121.3L386.3 121.3L387.4 121.3L388.5 121.3L389.7 121.3L390.8 121.3L391.9 121.3L393.0 121.3L394.2 121.3L395.3 121.3L396.4 121.3L397.5 121.3L398.7 121.3L399.8 121.3L400.9 121.3L402.0 121.3L403.2 121.3L404.3 121.3L405.4 121.3L406.5 121.3L407.7 121.3L408.8 121.3L409.9 121.3L411.0 121.3L412.2 121.3L413.3 121.3L414.4 121.3L415.6 121.3L416.7 121.3L417.8 121.3L418.9 121.3L420.1 121.3L421.2 121.3L422.3 121.3L423.4 121.3L424.6 121.3L424.9 121.3L424.9 122.4L424.7 123.5L424.7 124.6L424.7 125.7L424.9 126.8L425.4 127.8L425.7 128.3L426.1 128.9L426.8 129.7L427.0 130.0L427.9 131.1L427.9 131.1L428.8 132.2L429.1 132.5L429.7 133.3L430.2 133.9L430.6 134.4L431.3 135.0L431.8 135.5L432.4 136.0L433.2 136.5L433.6 136.8L434.7 137.6L434.8 137.6L435.8 138.3L437.0 138.6L438.1 138.6L439.2 138.3L440.3 137.9L440.9 137.6L441.5 137.4L442.6 137.1L443.7 136.9L444.8 136.8L446.0 137.0L447.1 137.2L448.2 137.6L448.3 137.6L449.3 138.6L449.4 138.7L449.7 139.8L449.7 140.9L449.7 142.0L449.7 143.1L450.0 144.2L450.5 144.4L450.9 144.2L451.6 143.8L452.4 143.1L452.7 142.8L453.2 142.0L453.5 140.9L453.2 139.8L452.7 139.2L452.2 138.7L451.6 138.2L451.0 137.6L450.7 136.5L450.8 135.5L451.1 134.4L451.6 133.5L451.7 133.3L452.5 132.2L452.7 132.0L453.7 131.1L453.8 131.0L455.0 130.2L455.3 130.0L456.1 129.5L456.9 128.9L457.2 128.7L458.2 127.8L458.3 127.6L459.0 126.8L459.3 125.7L459.4 124.6L459.2 123.5L459.0 122.4L458.9 121.3L459.5 121.3L460.6 121.3L461.7 121.3L462.9 121.3L464.0 121.3L465.1 121.3L466.2 121.3L467.4 121.3L468.5 121.3L469.6 121.3L470.7 121.3L471.9 121.3L472.3 121.3L472.3 122.4L472.2 123.5L472.2 124.6L472.2 125.7L472.3 126.8L472.5 127.8L472.9 128.9L473.0 129.1L473.4 130.0L474.1 131.1L474.1 131.1L474.9 132.2L475.2 132.7L475.6 133.3L476.3 134.4L476.4 134.5L477.0 135.5L477.5 136.2L477.8 136.5L478.6 137.4L478.8 137.6L479.7 138.3L480.3 138.7L480.9 139.1L481.9 139.8L482.0 139.8L483.1 140.6L483.5 140.9L484.3 141.5L484.8 142.0L485.4 142.5L486.1 143.1L486.5 143.4L487.6 144.2L487.6 144.2L488.8 144.9L489.4 145.2L489.9 145.5L491.0 146.2L491.2 146.3L492.1 146.9L492.8 147.4L493.3 147.7L494.4 148.5L494.4 148.5L495.5 149.2L496.5 149.6L496.6 149.6L497.8 149.9L498.9 150.1L500.0 150.1L501.1 150.1L502.3 150.1L503.4 150.1L504.5 150.1L505.7 150.1L506.8 150.1L506.8 150.7L506.8 151.8L506.8 152.7L505.7 152.7L504.5 152.7L503.4 152.7L502.3 152.7L501.1 152.7L500.0 152.5L498.9 152.3L497.8 152.1L497.0 151.8L496.6 151.7L495.5 151.2L494.7 150.7L494.4 150.5L493.3 149.7L493.2 149.6L492.1 148.8L491.7 148.5L491.0 148.0L490.1 147.4L489.9 147.3L488.8 146.6L488.3 146.3L487.6 146.0L486.5 145.3L486.4 145.2L485.4 144.6L484.7 144.2L484.3 143.8L483.3 143.1L483.1 142.9L482.0 142.1L481.8 142.0L480.9 141.3L480.1 140.9L479.7 140.7L478.6 140.0L478.2 139.8L477.5 139.3L476.7 138.7L476.4 138.5L475.4 137.6L475.2 137.5L474.3 136.5L474.1 136.3L473.1 135.5L473.0 135.3L471.9 134.4L471.8 134.4L470.7 133.6L470.2 133.3L469.6 132.9L468.6 132.2L468.5 132.1L467.4 131.2L467.2 131.1L466.2 130.4L465.7 130.0L465.1 129.6L464.0 129.1L463.4 128.9L462.9 128.8L461.7 128.9L461.7 128.9L460.6 129.3L459.5 129.8L459.1 130.0L458.3 130.4L457.2 131.1L457.2 131.1L456.1 132.0L455.8 132.2L455.0 133.3L455.0 133.7L454.9 134.4L455.0 134.6L455.3 135.5L456.1 136.4L456.2 136.5L457.2 137.6L457.2 137.6L458.1 138.7L458.3 139.2L458.7 139.8L459.1 140.9L459.5 141.8L459.5 142.0L459.8 143.1L460.1 144.2L460.3 145.2L460.4 146.3L460.4 147.4L460.2 148.5L460.1 149.6L459.9 150.7L459.7 151.8L459.5 152.9L459.5 153.1L459.3 154.0L459.0 155.0L458.3 155.9L458.1 156.1L457.2 156.5L456.1 156.8L455.0 156.8L453.8 156.9L452.7 156.9L451.6 157.1L451.2 157.2L450.5 157.5L449.5 158.3L449.3 158.5L448.8 159.4L448.4 160.5L448.2 161.6L448.2 162.0L448.2 162.7L448.2 163.0L448.3 163.7L448.4 164.8L448.7 165.9L448.9 167.0L449.2 168.1L449.3 169.1L449.3 169.2L449.4 170.3L449.6 171.4L449.7 172.5L450.1 173.5L450.5 174.1L450.8 174.6L451.6 175.4L451.9 175.7L452.7 176.4L453.1 176.8L453.8 177.5L454.1 177.9L454.7 179.0L455.0 179.6L455.1 180.1L455.2 181.2L455.3 182.2L455.2 183.3L455.0 184.4L455.0 184.4L454.4 185.5L453.8 186.3L452.7 186.6L451.6 186.3L450.5 185.7L450.2 185.5L449.3 185.0L448.5 184.4L448.2 184.2L447.1 183.6L446.7 183.3L446.0 182.8L445.1 182.2L444.8 182.0L443.8 181.2L443.7 181.0L442.8 180.1L442.6 179.8L441.8 179.0L441.5 178.6L440.4 177.9L440.3 177.9L439.4 177.9L439.2 177.9L438.1 178.8L438.0 179.0L437.4 180.1L437.0 180.7L436.8 181.2L436.3 182.2L435.8 183.3L435.8 183.3L435.4 184.4L434.9 185.5L434.7 186.1L434.5 186.6L434.0 187.7L433.6 188.8L433.6 188.9L433.2 189.9L433.0 190.9L432.8 192.0L432.8 193.1L432.9 194.2L432.9 195.3L433.0 196.4L432.4 196.4L431.3 196.4L430.2 196.4L429.1 196.4L427.9 196.4L426.8 196.4L425.7 196.4L424.6 196.4L423.4 196.4L422.3 196.4L421.2 196.4L420.1 196.4L418.9 196.4L417.8 196.4L416.7 196.4L415.6 196.4L414.4 196.4L413.3 196.4L412.2 196.4L411.0 196.4L409.9 196.4L408.8 196.4L407.7 196.4L406.5 196.4L405.4 196.4L404.3 196.4L403.2 196.4L402.0 196.4L401.1 196.4L401.1 195.3L401.3 194.2L401.4 193.1L401.3 192.0L401.1 190.9L400.9 190.6L400.4 189.9L399.8 189.3L398.9 188.8L398.7 188.7L397.5 188.3L396.4 188.0L395.3 187.8L394.9 187.7L394.2 187.5L393.0 187.3L391.9 187.0L390.8 186.7L390.6 186.6L389.7 186.3L388.5 185.8L387.6 185.5L387.4 185.4L386.3 184.8L385.5 184.4L385.1 184.2L384.2 183.3L384.0 183.1L383.6 182.2L383.4 181.2L383.3 180.1L383.4 179.0L383.3 177.9L383.2 176.8L382.9 175.7L382.9 175.7L382.4 174.6L381.8 173.7L381.7 173.5L380.6 172.5L380.5 172.5L379.5 171.7L378.9 171.4L378.4 171.1L377.3 170.5L376.9 170.3L376.1 169.9L375.0 169.3L374.8 169.2L373.9 168.7L373.0 168.1L372.8 168.0L371.6 167.4L371.0 167.0L370.5 166.8L369.4 166.3L368.3 166.1L367.3 165.9L367.1 165.9L366.0 165.8L364.9 165.8L363.7 165.7L362.6 165.6L361.5 165.4L360.4 165.3L359.2 165.1L358.1 165.1L357.0 165.2L355.9 165.5L354.7 165.8L354.3 165.9L353.6 166.1L352.5 166.4L351.4 166.7L350.2 166.9L349.4 167.0L349.1 167.1L348.0 167.3L346.9 167.6L345.7 168.0L345.6 168.1L344.6 169.1L344.5 169.2L344.0 170.3L343.5 171.3L343.5 171.4L342.8 172.5L342.4 173.0L341.7 173.5L341.2 173.9L340.1 174.5L339.8 174.6L339.0 174.9L337.8 175.2L336.7 175.4L335.6 175.6L335.0 175.7L334.5 175.8L333.3 176.0L332.2 176.2L331.1 176.4L330.0 176.7L329.6 176.8L328.8 177.1L327.7 177.5L327.0 177.9L326.6 178.1L325.5 178.8L325.1 179.0L324.3 179.5L323.5 180.1L323.2 180.3L322.2 181.2L322.1 181.2L321.0 182.2L320.9 182.2L319.8 183.1L319.5 183.3L318.7 183.8L317.7 184.4L317.6 184.5L316.4 184.9L315.3 185.2L314.2 185.5L314.1 185.5L313.1 185.7L311.9 185.8L310.8 185.9L309.7 186.0L308.6 186.0L307.4 186.0L306.3 185.9L305.2 185.6L304.8 185.5L304.1 185.2L302.9 184.6L302.7 184.4L301.8 183.7L301.3 183.3L300.7 182.7L300.1 182.2L299.6 181.6L298.8 181.2L298.4 180.9L297.3 180.7L296.2 181.0L295.7 181.2L295.0 181.3L293.9 181.5L293.9 181.2L293.9 180.1L293.9 179.0L293.9 177.9L293.9 176.8L293.9 175.7L293.9 175.0L295.0 175.1L296.2 175.3L297.3 175.5L298.4 175.4L299.6 174.9L299.8 174.6L300.7 174.1L301.3 173.5L301.8 173.2L302.8 172.5L302.9 172.3L304.1 171.5L304.2 171.4L305.2 170.7L305.7 170.3L306.3 169.9L307.4 169.3L307.7 169.2L308.6 168.9L309.7 168.5L310.8 168.2L311.3 168.1L311.9 167.9L313.1 167.7L314.2 167.5L315.3 167.3L316.4 167.0L316.7 167.0L317.6 166.9L318.7 166.7L319.8 166.5L321.0 166.3L322.1 166.1L322.9 165.9L323.2 165.9L324.3 165.6L325.5 165.2L326.5 164.8L326.6 164.8L327.7 164.2L328.2 163.7L328.8 163.3L329.4 162.7L330.0 162.0L330.3 161.6L331.1 160.5L331.1 160.5L332.1 159.4L332.2 159.2L333.2 158.3L333.3 158.2L334.5 157.4L334.8 157.2L335.6 156.8L336.7 156.2L336.8 156.1L337.8 155.5L338.4 155.0L339.0 154.6L339.6 154.0L340.1 153.4L340.4 152.9L341.0 151.8L341.2 151.2L341.4 150.7L341.7 149.6L342.0 148.5L342.2 147.4L342.4 146.5L342.4 146.3L342.5 145.2L342.5 144.2L342.4 143.7L342.1 143.1L341.2 142.0L341.2 142.0L340.1 141.4L339.0 141.0L338.4 140.9L337.8 140.7L336.7 140.5L335.6 140.2L334.5 139.9L333.9 139.8L333.3 139.6L332.2 139.3L331.1 139.1L330.0 138.8L329.4 138.7L328.8 138.6L327.7 138.3L326.6 138.0L325.6 137.6L325.5 137.6L324.3 137.0L323.6 136.5L323.2 136.3L322.1 135.5L322.1 135.4L321.0 134.5L320.8 134.4L319.8 133.7L319.2 133.3L318.7 132.9L317.7 132.2L317.6 132.1L316.4 131.2L316.4 131.1L315.5 130.0L315.3 129.8L314.8 128.9L314.4 127.8L314.2 127.2L314.1 126.8L314.0 125.7L314.0 124.6L314.0 123.5L314.1 122.4L314.1 121.3ZM352.5 128.9L352.5 128.9L351.4 129.4L350.2 129.9L350.0 130.0L349.1 130.7L348.6 131.1L348.2 132.2L348.7 133.3L349.1 133.6L350.2 134.4L350.2 134.4L351.4 135.0L352.2 135.5L352.5 135.6L353.6 136.1L354.7 136.5L354.8 136.5L355.9 136.9L357.0 137.0L358.1 137.0L359.2 136.9L360.4 136.8L361.5 136.6L361.7 136.5L362.6 136.4L363.7 136.3L364.9 136.3L366.0 136.2L367.1 136.2L368.3 136.2L369.4 136.2L370.5 136.2L371.6 136.1L372.8 135.9L373.9 135.6L374.3 135.5L375.0 135.1L376.0 134.4L376.1 134.1L376.7 133.3L376.8 132.2L376.5 131.1L376.1 130.6L375.5 130.0L375.0 129.7L373.9 129.2L372.9 128.9L372.8 128.9L371.6 128.7L370.5 128.5L369.4 128.4L368.3 128.3L367.1 128.2L366.0 128.2L364.9 128.1L363.7 128.1L362.6 128.1L361.5 128.0L360.4 128.0L359.2 128.1L358.1 128.1L357.0 128.1L355.9 128.2L354.7 128.4L353.6 128.6ZM382.5 137.6L381.8 138.7L381.8 139.0L381.7 139.8L381.8 140.7L381.8 140.9L381.9 142.0L381.8 142.3L381.5 143.1L380.6 143.9L380.2 144.2L379.5 144.5L378.4 144.9L377.5 145.2L377.3 145.3L376.1 145.6L375.0 146.0L374.1 146.3L373.9 146.4L372.8 146.7L371.6 146.8L370.5 146.8L369.5 146.3L369.4 146.0L369.2 145.2L369.4 145.0L370.1 144.2L370.5 143.9L371.6 143.1L371.6 143.1L372.8 142.3L373.1 142.0L373.8 140.9L373.5 139.8L372.8 139.4L371.6 138.9L371.3 138.7L370.5 138.6L369.4 138.3L368.3 138.1L367.1 137.9L366.0 137.8L364.9 137.7L363.7 137.8L362.6 137.9L361.5 138.1L360.4 138.3L359.2 138.6L358.7 138.7L358.1 138.9L357.0 139.1L355.9 139.1L354.7 138.8L354.4 138.7L353.6 138.5L352.5 138.3L351.4 138.1L350.2 138.1L349.1 138.5L348.7 138.7L348.0 139.6L347.9 139.8L347.6 140.9L347.4 142.0L347.1 143.1L346.9 143.3L346.4 144.2L345.7 144.9L345.5 145.2L344.8 146.3L344.6 146.6L344.2 147.4L343.8 148.5L343.5 149.3L343.4 149.6L343.1 150.7L342.8 151.8L342.5 152.9L342.4 153.4L342.1 154.0L341.7 155.0L341.2 156.1L341.2 156.1L340.7 157.2L340.3 158.3L340.1 159.2L340.0 159.4L339.8 160.5L339.7 161.6L339.7 162.7L339.7 163.7L340.1 164.5L341.2 164.8L341.9 164.8L342.4 164.9L343.5 164.9L344.6 165.0L345.7 165.0L346.9 165.0L348.0 165.0L349.1 165.0L350.2 164.8L350.3 164.8L351.4 164.6L352.5 164.3L353.6 163.9L354.0 163.7L354.7 163.4L355.9 162.9L356.5 162.7L357.0 162.5L358.1 162.2L359.2 162.2L360.4 162.3L361.5 162.5L362.6 162.6L363.7 162.6L364.9 162.5L366.0 162.3L367.1 162.1L368.3 162.0L369.4 162.0L370.5 162.2L371.6 162.6L371.8 162.7L372.8 163.0L373.9 163.3L375.0 163.4L376.1 163.4L377.3 163.2L378.4 162.9L379.4 162.7L379.5 162.6L380.6 162.6L381.1 162.7L381.8 162.8L382.9 163.3L383.7 163.7L384.0 164.0L385.1 164.7L385.3 164.8L386.3 165.3L387.4 165.7L388.5 165.9L388.5 165.9L389.7 166.1L390.8 166.1L391.9 166.1L393.0 166.1L394.2 166.0L395.3 165.9L395.6 165.9L396.4 165.9L397.5 165.8L398.7 165.7L399.8 165.6L400.9 165.6L402.0 165.4L403.2 165.3L404.3 165.1L405.4 164.9L405.6 164.8L406.5 164.7L407.7 164.5L408.8 164.3L409.9 164.3L411.0 164.3L412.2 164.4L413.3 164.5L414.4 164.6L415.6 164.7L416.7 164.7L417.8 164.7L418.9 164.7L420.1 164.7L421.2 164.6L422.3 164.6L423.4 164.5L424.6 164.4L425.7 164.4L426.8 164.5L427.9 164.8L428.0 164.8L429.1 165.3L430.2 165.8L430.4 165.9L431.3 166.3L432.4 166.6L433.6 166.7L434.7 166.7L435.8 166.6L437.0 166.5L438.1 166.4L439.2 166.2L440.3 166.1L441.1 165.9L441.5 165.9L442.6 165.7L443.7 165.4L444.6 164.8L444.8 164.6L445.4 163.7L445.7 162.7L446.0 161.6L446.0 161.6L446.1 160.5L446.3 159.4L446.5 158.3L446.8 157.2L447.1 156.2L447.1 156.1L447.5 155.0L447.9 154.0L448.2 153.0L448.3 152.9L448.5 151.8L448.7 150.7L448.7 149.6L448.8 148.5L448.7 147.4L448.3 146.3L448.2 146.3L447.1 146.2L446.0 146.2L444.8 146.2L443.7 146.2L442.6 146.1L441.5 146.0L440.3 145.8L439.2 145.7L438.1 145.6L437.0 145.5L435.8 145.5L434.7 145.7L433.6 146.0L433.0 146.3L432.5 147.4L432.4 147.6L432.4 148.5L432.4 149.6L432.3 150.7L432.2 151.8L432.1 152.9L431.9 154.0L431.6 155.0L431.3 156.0L431.3 156.1L430.6 157.2L430.2 157.9L429.6 158.3L429.1 158.7L427.9 158.8L427.2 158.3L426.8 158.0L426.4 157.2L425.9 156.1L425.7 155.7L425.5 155.0L425.2 154.0L425.0 152.9L424.7 151.8L424.6 150.9L424.5 150.7L424.6 150.5L424.8 149.6L425.7 148.8L426.0 148.5L426.8 147.8L427.3 147.4L427.9 146.8L428.5 146.3L428.9 145.2L428.0 144.2L427.9 144.1L426.8 143.4L426.5 143.1L425.7 142.6L424.9 142.0L424.6 141.8L423.4 141.2L422.9 140.9L422.3 140.7L421.2 140.4L420.1 140.2L418.9 140.2L417.8 140.3L416.7 140.5L415.6 140.7L414.7 140.9L414.4 141.0L413.3 141.3L412.2 141.7L411.6 142.0L411.0 142.3L409.9 142.8L409.1 143.1L408.8 143.2L407.7 143.3L406.5 143.1L406.2 143.1L405.4 142.9L404.3 142.6L403.2 142.4L402.0 142.3L400.9 142.3L399.8 142.4L398.7 142.5L397.5 142.6L396.4 142.7L395.3 142.8L394.2 142.9L393.0 143.0L391.9 142.8L390.8 142.3L390.4 142.0L389.8 140.9L389.7 140.4L389.5 139.8L388.9 138.7L388.5 138.3L387.8 137.6L387.4 137.4L386.3 136.9L385.1 136.7L384.0 136.9L382.9 137.3ZM335.4 164.8L334.5 165.6L334.2 165.9L333.4 167.0L333.3 167.1L332.7 168.1L332.2 168.9L332.1 169.2L331.7 170.3L331.8 171.4L332.2 171.7L333.3 172.4L333.5 172.5L334.5 172.6L335.6 172.6L336.7 172.5L336.9 172.5L337.8 172.1L338.9 171.4L339.0 171.3L339.5 170.3L339.8 169.2L339.8 168.1L339.8 167.0L339.7 165.9L339.6 164.8L339.0 164.6L337.8 164.4L336.7 164.3L335.6 164.7ZM408.3 168.1L407.7 168.9L407.5 169.2L407.7 169.3L408.8 169.6L409.9 169.8L411.0 169.7L412.2 169.3L412.4 169.2L412.2 169.0L411.2 168.1L411.0 168.1L409.9 168.0L408.8 168.0ZM414.1 177.9L413.3 178.0L412.2 178.8L412.0 179.0L411.4 180.1L411.1 181.2L411.0 181.3L411.0 182.2L411.0 183.0L411.1 183.3L411.6 184.4L412.2 185.0L413.1 185.5L413.3 185.6L414.4 185.7L415.6 185.6L415.9 185.5L416.7 185.1L417.6 184.4L417.8 183.9L418.0 183.3L418.0 182.2L417.8 181.7L417.6 181.2L417.1 180.1L416.7 179.4L416.4 179.0L415.6 178.2L414.6 177.9L414.4 177.9ZM428.9 179.0L428.5 180.1L428.9 181.2L429.1 181.3L430.1 181.2L430.2 181.1L430.4 180.1L430.2 179.3L429.7 179.0L429.1 178.8ZM476.4 121.6L476.4 121.3L477.5 121.3L478.6 121.3L479.7 121.3L479.8 121.3L479.7 122.3L479.7 122.4L479.7 123.5L479.6 124.6L479.6 125.7L479.7 126.6L479.8 126.8L480.1 127.8L480.9 128.9L480.9 128.9L482.0 129.9L482.2 130.0L483.1 130.5L484.3 130.8L485.4 131.1L485.7 131.1L486.5 131.2L487.6 131.2L488.5 131.1L488.8 131.1L489.9 130.7L491.0 130.2L491.5 130.0L492.1 129.7L493.3 129.3L494.4 129.0L494.8 128.9L495.5 128.8L496.6 128.8L497.8 128.9L498.2 128.9L498.9 129.0L500.0 129.2L501.1 129.3L502.3 129.4L503.4 129.4L504.5 129.4L505.7 129.4L506.8 129.4L506.8 130.0L506.8 131.1L506.8 132.2L506.8 133.0L505.7 133.0L504.5 133.1L503.4 133.1L502.3 133.1L501.1 132.9L500.0 132.5L499.2 132.2L498.9 132.1L497.8 131.8L496.6 131.6L495.5 131.5L494.4 131.7L493.3 132.1L493.1 132.2L492.1 132.6L491.0 133.2L490.7 133.3L489.9 133.6L488.8 133.8L487.6 133.8L486.5 133.6L485.4 133.4L485.1 133.3L484.3 133.1L483.1 132.8L482.0 132.4L481.3 132.2L480.9 132.0L479.7 131.5L479.0 131.1L478.6 130.8L477.8 130.0L477.5 129.5L477.0 128.9L476.6 127.8L476.4 126.8L476.4 126.8L476.2 125.7L476.2 124.6L476.2 123.5L476.3 122.4ZM497.8 166.8L498.9 166.7L500.0 166.5L501.1 166.5L502.3 166.5L503.4 166.4L504.5 166.5L505.7 166.5L506.8 166.5L506.8 167.0L506.8 168.1L506.8 169.2L506.8 170.3L506.8 171.4L506.8 171.6L505.7 171.6L504.5 171.5L503.4 171.5L502.3 171.5L501.1 171.6L500.0 172.0L499.1 172.5L498.9 172.6L497.8 173.5L497.7 173.5L496.6 174.5L496.5 174.6L495.5 175.2L494.4 175.7L494.4 175.7L493.3 176.1L492.1 176.3L491.0 176.7L490.7 176.8L489.9 177.2L488.9 177.9L488.8 178.0L487.8 179.0L487.6 179.1L486.7 180.1L486.5 180.3L485.4 181.1L485.2 181.2L484.3 181.6L483.1 181.9L482.0 182.1L481.3 182.2L480.9 182.3L479.7 182.4L478.6 182.5L477.5 182.7L476.4 182.8L475.2 183.0L474.1 183.2L473.8 183.3L473.0 183.6L471.9 184.1L471.3 184.4L470.7 184.8L469.6 185.4L469.3 185.5L468.5 185.8L467.4 186.1L466.2 185.9L465.6 185.5L465.1 184.9L464.9 184.4L464.6 183.3L464.6 182.2L464.6 181.2L464.8 180.1L465.0 179.0L465.1 178.6L465.3 177.9L465.7 176.8L466.2 175.7L466.2 175.7L466.9 174.6L467.4 173.9L467.7 173.5L468.5 172.6L468.8 172.5L469.6 171.8L470.7 171.5L471.6 171.4L471.9 171.3L473.0 171.3L474.1 171.4L474.2 171.4L475.2 171.4L476.4 171.5L477.5 171.6L478.6 171.6L479.7 171.7L480.9 171.7L482.0 171.7L483.1 171.6L484.3 171.4L484.5 171.4L485.4 171.2L486.5 171.0L487.6 170.7L488.8 170.4L489.1 170.3L489.9 170.0L491.0 169.6L492.1 169.2L492.1 169.2L493.3 168.6L494.3 168.1L494.4 168.1L495.5 167.6L496.6 167.1L497.0 167.0ZM471.4 174.6L470.7 174.7L469.6 175.0L468.5 175.6L468.3 175.7L467.4 176.7L467.3 176.8L466.7 177.9L466.3 179.0L466.2 179.1L466.1 180.1L466.1 181.2L466.2 182.2L466.2 182.3L467.1 183.3L467.4 183.5L468.5 183.6L469.4 183.3L469.6 183.3L470.7 182.8L471.9 182.3L471.9 182.2L473.0 181.9L474.1 181.6L475.2 181.4L476.4 181.3L477.5 181.2L478.4 181.2L478.6 181.1L479.7 181.0L480.9 180.8L482.0 180.5L483.1 180.1L483.2 180.1L484.3 179.3L484.6 179.0L485.3 177.9L485.4 177.3L485.5 176.8L485.4 176.3L485.1 175.7L484.3 175.2L483.1 174.8L482.0 174.6L481.8 174.6L480.9 174.5L479.7 174.4L478.6 174.4L477.5 174.4L476.4 174.4L475.2 174.4L474.1 174.4L473.0 174.5L471.9 174.6ZM477.5 191.6L478.6 191.0L479.7 191.7L480.0 192.0L480.0 193.1L479.7 194.2L479.7 194.2L478.9 195.3L478.6 195.8L478.3 195.3L477.5 194.4L477.4 194.2L477.2 193.1L477.3 192.0Z" fill="#80d594" fill-rule="evenodd"/>
<path stroke="#66c7a5" d="M295.0 121.3L296.2 121.3L297.3 121.3L298.4 121.3L299.6 121.3L300.7 121.3L301.8 121.3L302.9 121.3L304.1 121.3L305.2 121.3L306.3 121.3L307.4 121.3L308.6 121.3L309.7 121.3L310.8 121.3L311.9 121.3L313.1 121.3L314.1 121.3L314.1 122.4L314.0 123.5L314.0 124.6L314.0 125.7L314.1 126.8L314.2 127.2L314.4 127.8L314.8 128.9L315.3 129.8L315.5 130.0L316.4 131.1L316.4 131.2L317.6 132.1L317.7 132.2L318.7 132.9L319.2 133.3L319.8 133.7L320.8 134.4L321.0 134.5L322.1 135.4L322.1 135.5L323.2 136.3L323.6 136.5L324.3 137.0L325.5 137.6L325.6 137.6L326.6 138.0L327.7 138.3L328.8 138.6L329.4 138.7L330.0 138.8L331.1 139.1L332.2 139.3L333.3 139.6L333.9 139.8L334.5 139.9L335.6 140.2L336.7 140.5L337.8 140.7L338.4 140.9L339.0 141.0L340.1 141.4L341.2 142.0L341.2 142.0L342.1 143.1L342.4 143.7L342.5 144.2L342.5 145.2L342.4 146.3L342.4 146.5L342.2 147.4L342.0 148.5L341.7 149.6L341.4 150.7L341.2 151.2L341.0 151.8L340.4 152.9L340.1 153.4L339.6 154.0L339.0 154.6L338.4 155.0L337.8 155.5L336.8 156.1L336.7 156.2L335.6 156.8L334.8 157.2L334.5 157.4L333.3 158.2L333.2 158.3L332.2 159.2L332.1 159.4L331.1 160.5L331.1 160.5L330.3 161.6L330.0 162.0L329.4 162.7L328.8 163.3L328.2 163.7L327.7 164.2L326.6 164.8L326.5 164.8L325.5 165.2L324.3 165.6L323.2 165.9L322.9 165.9L322.1 166.1L321.0 166.3L319.8 166.5L318.7 166.7L317.6 166.9L316.7 167.0L316.4 167.0L315.3 167.3L314.2 167.5L313.1 167.7L311.9 167.9L311.3 168.1L310.8 168.2L309.7 168.5L308.6 168.9L307.7 169.2L307.4 169.3L306.3 169.9L305.7 170.3L305.2 170.7L304.2 171.4L304.1 171.5L302.9 172.3L302.8 172.5L301.8 173.2L301.3 173.5L300.7 174.1L299.8 174.6L299.6 174.9L298.4 175.4L297.3 175.5L296.2 175.3L295.0 175.1L293.9 175.0L293.9 174.6L293.9 173.5L293.9 172.5L293.9 171.4L293.9 170.3L293.9 169.2L293.9 168.1L293.9 167.0L293.9 165.9L293.9 164.8L293.9 163.7L293.9 162.7L293.9 161.6L293.9 160.5L293.9 159.4L293.9 158.3L293.9 157.2L293.9 156.1L293.9 155.0L293.9 154.9L295.0 154.9L296.2 154.8L297.3 154.8L298.4 154.8L299.6 155.0L299.9 155.0L300.7 155.2L301.8 155.6L302.9 156.0L303.4 156.1L304.1 156.4L305.2 156.9L305.8 157.2L306.3 157.5L307.3 158.3L307.4 158.4L308.4 159.4L308.6 159.6L309.4 160.5L309.7 160.7L310.8 161.4L311.1 161.6L311.9 161.8L313.1 161.9L314.2 162.0L315.3 161.9L316.4 161.8L317.5 161.6L317.6 161.6L318.7 161.3L319.8 161.1L321.0 160.8L322.1 160.6L322.4 160.5L323.2 160.3L324.3 160.1L325.5 159.7L326.1 159.4L326.6 159.2L327.7 158.4L327.8 158.3L328.8 157.5L329.1 157.2L330.0 156.5L330.5 156.1L331.1 155.7L332.1 155.0L332.2 155.0L333.3 154.4L334.4 154.0L334.5 153.9L335.6 153.5L336.7 153.0L336.9 152.9L337.8 152.3L338.4 151.8L339.0 151.1L339.2 150.7L339.7 149.6L339.9 148.5L339.9 147.4L339.7 146.3L339.0 145.3L339.0 145.2L337.8 144.6L336.7 144.4L335.6 144.2L335.3 144.2L334.5 144.1L333.3 143.9L332.2 143.7L331.1 143.5L330.0 143.2L328.9 143.1L328.8 143.1L327.7 142.9L326.6 142.8L325.5 142.8L324.3 142.7L323.2 142.7L322.1 142.6L321.0 142.5L319.8 142.3L318.9 142.0L318.7 141.9L317.6 141.3L316.9 140.9L316.4 140.6L315.3 140.2L314.2 139.9L313.1 139.8L311.9 139.8L311.3 139.8L310.8 139.8L309.7 139.8L308.6 139.8L307.4 139.8L307.1 139.8L306.3 139.8L305.2 139.9L304.1 140.0L302.9 140.1L301.8 140.3L300.7 140.5L299.6 140.7L298.4 140.8L297.3 140.8L296.2 140.8L295.0 140.8L293.9 140.7L293.9 139.8L293.9 138.7L293.9 137.6L293.9 136.5L293.9 135.5L293.9 134.4L293.9 133.3L293.9 132.2L293.9 131.1L293.9 130.0L293.9 128.9L293.9 127.8L293.9 126.8L293.9 125.7L293.9 124.6L293.9 123.5L293.9 122.4L293.9 121.3ZM479.7 122.3L479.8 121.3L480.9 121.3L482.0 121.3L482.2 121.3L482.1 122.4L482.0 123.0L481.9 123.5L481.8 124.6L481.9 125.7L482.0 126.2L482.2 126.8L482.9 127.8L483.1 128.0L484.3 128.6L485.4 128.8L486.5 128.8L487.6 128.4L488.6 127.8L488.8 127.7L489.7 126.8L489.9 126.2L490.2 125.7L490.2 124.6L490.0 123.5L489.9 123.0L489.8 122.4L489.6 121.3L489.9 121.3L491.0 121.3L492.1 121.3L493.3 121.3L494.4 121.3L495.5 121.3L496.6 121.3L497.8 121.3L498.9 121.3L500.0 121.3L501.1 121.3L502.3 121.3L503.4 121.3L504.5 121.3L505.7 121.3L506.8 121.3L506.8 122.4L506.8 123.5L506.8 124.6L506.8 125.7L506.8 126.8L506.8 127.8L506.8 128.9L506.8 129.4L505.7 129.4L504.5 129.4L503.4 129.4L502.3 129.4L501.1 129.3L500.0 129.2L498.9 129.0L498.2 128.9L497.8 128.9L496.6 128.8L495.5 128.8L494.8 128.9L494.4 129.0L493.3 129.3L492.1 129.7L491.5 130.0L491.0 130.2L489.9 130.7L488.8 131.1L488.5 131.1L487.6 131.2L486.5 131.2L485.7 131.1L485.4 131.1L484.3 130.8L483.1 130.5L482.2 130.0L482.0 129.9L480.9 128.9L480.9 128.9L480.1 127.8L479.8 126.8L479.7 126.6L479.6 125.7L479.6 124.6L479.7 123.5L479.7 122.4ZM353.6 128.6L354.7 128.4L355.9 128.2L357.0 128.1L358.1 128.1L359.2 128.1L360.4 128.0L361.5 128.0L362.6 128.1L363.7 128.1L364.9 128.1L366.0 128.2L367.1 128.2L368.3 128.3L369.4 128.4L370.5 128.5L371.6 128.7L372.8 128.9L372.9 128.9L373.9 129.2L375.0 129.7L375.5 130.0L376.1 130.6L376.5 131.1L376.8 132.2L376.7 133.3L376.1 134.1L376.0 134.4L375.0 135.1L374.3 135.5L373.9 135.6L372.8 135.9L371.6 136.1L370.5 136.2L369.4 136.2L368.3 136.2L367.1 136.2L366.0 136.2L364.9 136.3L363.7 136.3L362.6 136.4L361.7 136.5L361.5 136.6L360.4 136.8L359.2 136.9L358.1 137.0L357.0 137.0L355.9 136.9L354.8 136.5L354.7 136.5L353.6 136.1L352.5 135.6L352.2 135.5L351.4 135.0L350.2 134.4L350.2 134.4L349.1 133.6L348.7 133.3L348.2 132.2L348.6 131.1L349.1 130.7L350.0 130.0L350.2 129.9L351.4 129.4L352.5 128.9L352.5 128.9ZM357.3 130.0L357.0 130.1L355.9 130.4L354.7 130.9L354.4 131.1L353.6 132.1L353.6 132.2L353.6 132.5L353.7 133.3L354.7 134.4L354.7 134.4L355.9 135.0L357.0 135.3L358.0 135.5L358.1 135.5L358.9 135.5L359.2 135.4L360.4 135.3L361.5 135.2L362.6 135.0L363.7 134.9L364.9 134.8L366.0 134.7L367.1 134.6L368.3 134.4L368.7 134.4L369.4 134.2L370.5 133.7L371.2 133.3L371.4 132.2L370.5 131.4L370.1 131.1L369.4 130.8L368.3 130.5L367.1 130.3L366.0 130.2L364.9 130.0L364.8 130.0L363.7 129.9L362.6 129.9L361.5 129.8L360.4 129.8L359.2 129.8L358.1 129.9ZM461.7 128.9L462.9 128.8L463.4 128.9L464.0 129.1L465.1 129.6L465.7 130.0L466.2 130.4L467.2 131.1L467.4 131.2L468.5 132.1L468.6 132.2L469.6 132.9L470.2 133.3L470.7 133.6L471.8 134.4L471.9 134.4L473.0 135.3L473.1 135.5L474.1 136.3L474.3 136.5L475.2 137.5L475.4 137.6L476.4 138.5L476.7 138.7L477.5 139.3L478.2 139.8L478.6 140.0L479.7 140.7L480.1 140.9L480.9 141.3L481.8 142.0L482.0 142.1L483.1 142.9L483.3 143.1L484.3 143.8L484.7 144.2L485.4 144.6L486.4 145.2L486.5 145.3L487.6 146.0L488.3 146.3L488.8 146.6L489.9 147.3L490.1 147.4L491.0 148.0L491.7 148.5L492.1 148.8L493.2 149.6L493.3 149.7L494.4 150.5L494.7 150.7L495.5 151.2L496.6 151.7L497.0 151.8L497.8 152.1L498.9 152.3L500.0 152.5L501.1 152.7L502.3 152.7L503.4 152.7L504.5 152.7L505.7 152.7L506.8 152.7L506.8 152.9L506.8 154.0L506.8 154.9L505.7 154.9L504.5 155.0L503.4 155.0L502.3 155.0L501.1 154.9L500.0 154.7L498.9 154.4L497.8 154.0L497.7 154.0L496.6 153.5L495.5 153.0L495.4 152.9L494.4 152.3L493.7 151.8L493.3 151.5L492.3 150.7L492.1 150.6L491.0 149.7L490.9 149.6L489.9 148.9L489.3 148.5L488.8 148.2L487.6 147.5L487.4 147.4L486.5 146.9L485.5 146.3L485.4 146.3L484.3 145.6L483.7 145.2L483.1 144.8L482.2 144.2L482.0 144.0L480.9 143.2L480.7 143.1L479.7 142.5L478.8 142.0L478.6 141.9L477.5 141.3L476.7 140.9L476.4 140.7L475.2 140.0L474.9 139.8L474.1 139.2L473.4 138.7L473.0 138.4L472.0 137.6L471.9 137.5L470.7 136.8L470.2 136.5L469.6 136.2L468.5 135.8L467.8 135.5L467.4 135.3L466.2 134.8L465.2 134.4L465.1 134.3L464.0 133.8L462.9 133.4L462.5 133.3L461.7 133.1L460.8 133.3L460.6 133.3L460.0 134.4L460.4 135.5L460.6 135.8L461.0 136.5L461.6 137.6L461.7 137.9L462.1 138.7L462.6 139.8L462.9 140.5L463.0 140.9L463.5 142.0L463.9 143.1L464.0 143.2L464.4 144.2L464.9 145.2L465.1 145.8L465.4 146.3L465.9 147.4L466.2 148.2L466.4 148.5L466.9 149.6L467.2 150.7L467.3 151.8L467.2 152.9L466.9 154.0L466.7 155.0L466.6 156.1L466.8 157.2L467.1 158.3L467.4 158.8L467.7 159.4L468.3 160.5L468.5 160.7L469.1 161.6L469.6 162.1L470.2 162.7L470.7 163.0L471.9 163.7L471.9 163.7L473.0 164.3L474.1 164.7L474.5 164.8L475.2 165.1L476.4 165.4L477.5 165.7L478.2 165.9L478.6 166.1L479.7 166.4L480.9 166.8L481.7 167.0L482.0 167.1L483.1 167.4L484.3 167.6L485.4 167.8L486.5 167.8L487.6 167.8L488.8 167.6L489.9 167.3L490.8 167.0L491.0 167.0L492.1 166.5L493.3 166.0L493.3 165.9L494.4 165.5L495.5 165.2L496.6 164.9L497.6 164.8L497.8 164.8L498.9 164.8L500.0 164.7L501.1 164.7L502.3 164.7L503.4 164.7L504.5 164.7L505.7 164.7L506.8 164.7L506.8 164.8L506.8 165.9L506.8 166.5L505.7 166.5L504.5 166.5L503.4 166.4L502.3 166.5L501.1 166.5L500.0 166.5L498.9 166.7L497.8 166.8L497.0 167.0L496.6 167.1L495.5 167.6L494.4 168.1L494.3 168.1L493.3 168.6L492.1 169.2L492.1 169.2L491.0 169.6L489.9 170.0L489.1 170.3L488.8 170.4L487.6 170.7L486.5 171.0L485.4 171.2L484.5 171.4L484.3 171.4L483.1 171.6L482.0 171.7L480.9 171.7L479.7 171.7L478.6 171.6L477.5 171.6L476.4 171.5L475.2 171.4L474.2 171.4L474.1 171.4L473.0 171.3L471.9 171.3L471.6 171.4L470.7 171.5L469.6 171.8L468.8 172.5L468.5 172.6L467.7 173.5L467.4 173.9L466.9 174.6L466.2 175.7L466.2 175.7L465.7 176.8L465.3 177.9L465.1 178.6L465.0 179.0L464.8 180.1L464.6 181.2L464.6 182.2L464.6 183.3L464.9 184.4L465.1 184.9L465.6 185.5L466.2 185.9L467.4 186.1L468.5 185.8L469.3 185.5L469.6 185.4L470.7 184.8L471.3 184.4L471.9 184.1L473.0 183.6L473.8 183.3L474.1 183.2L475.2 183.0L476.4 182.8L477.5 182.7L478.6 182.5L479.7 182.4L480.9 182.3L481.3 182.2L482.0 182.1L483.1 181.9L484.3 181.6L485.2 181.2L485.4 181.1L486.5 180.3L486.7 180.1L487.6 179.1L487.8 179.0L488.8 178.0L488.9 177.9L489.9 177.2L490.7 176.8L491.0 176.7L492.1 176.3L493.3 176.1L494.4 175.7L494.4 175.7L495.5 175.2L496.5 174.6L496.6 174.5L497.7 173.5L497.8 173.5L498.9 172.6L499.1 172.5L500.0 172.0L501.1 171.6L502.3 171.5L503.4 171.5L504.5 171.5L505.7 171.6L506.8 171.6L506.8 172.5L506.8 173.5L506.8 174.6L506.8 175.7L506.8 176.8L506.8 177.9L506.8 178.9L505.7 178.9L504.5 178.8L503.4 178.8L502.3 178.8L501.1 178.9L500.0 179.0L499.7 179.0L498.9 179.0L497.8 179.1L496.6 179.1L495.5 179.2L494.4 179.3L493.3 179.4L492.1 179.7L491.3 180.1L491.0 180.2L489.9 181.0L489.7 181.2L488.8 181.9L488.2 182.2L487.6 182.6L486.5 183.0L485.4 183.3L485.4 183.4L484.3 183.6L483.1 183.8L482.0 183.9L480.9 184.0L479.7 184.1L478.6 184.2L477.5 184.4L477.2 184.4L476.4 184.7L475.2 185.0L474.1 185.4L473.9 185.5L473.0 186.1L472.0 186.6L471.9 186.7L470.7 187.3L470.0 187.7L469.6 187.9L468.5 188.3L467.4 188.6L466.2 188.7L465.1 188.8L464.0 188.6L462.9 187.8L462.7 187.7L462.4 186.6L462.5 185.5L462.6 184.4L462.9 183.5L462.9 183.3L463.1 182.2L463.3 181.2L463.6 180.1L463.9 179.0L464.0 178.6L464.2 177.9L464.5 176.8L464.8 175.7L465.1 174.9L465.2 174.6L465.5 173.5L465.7 172.5L465.7 171.4L465.4 170.3L465.1 169.9L464.6 169.2L464.0 168.5L463.5 168.1L462.9 167.6L462.1 167.0L461.7 166.6L461.2 165.9L460.6 165.1L460.5 164.8L460.0 163.7L459.5 162.7L459.4 162.7L458.8 161.6L458.3 161.0L457.8 160.5L457.2 160.1L456.1 159.7L455.0 159.4L453.8 159.4L452.7 159.6L451.6 160.2L451.2 160.5L450.6 161.6L450.5 162.0L450.4 162.7L450.4 163.7L450.5 164.4L450.5 164.8L450.7 165.9L450.9 167.0L451.1 168.1L451.4 169.2L451.6 170.2L451.6 170.3L451.9 171.4L452.4 172.5L452.7 173.0L453.0 173.5L453.8 174.6L453.9 174.6L454.7 175.7L455.0 176.0L455.5 176.8L456.0 177.9L456.1 178.0L456.5 179.0L456.8 180.1L457.1 181.2L457.2 181.9L457.3 182.2L457.6 183.3L457.9 184.4L458.3 185.5L458.3 185.8L458.8 186.6L459.5 187.7L459.5 187.7L460.3 188.8L460.6 189.7L460.7 189.9L460.8 190.9L460.9 192.0L460.9 193.1L460.9 194.2L460.8 195.3L460.8 196.4L460.6 196.4L459.5 196.4L458.3 196.4L457.2 196.4L456.1 196.4L455.0 196.4L453.8 196.4L452.7 196.4L451.6 196.4L450.5 196.4L449.3 196.4L448.2 196.4L447.1 196.4L446.0 196.4L444.8 196.4L443.7 196.4L442.6 196.4L441.5 196.4L440.3 196.4L440.1 196.4L440.3 195.3L440.3 195.1L440.4 194.2L440.5 193.1L440.5 192.0L440.3 191.3L440.2 190.9L439.2 190.0L438.1 190.9L438.1 190.9L437.9 192.0L437.9 193.1L437.9 194.2L438.0 195.3L438.1 196.4L437.0 196.4L435.8 196.4L434.7 196.4L433.6 196.4L433.0 196.4L432.9 195.3L432.9 194.2L432.8 193.1L432.8 192.0L433.0 190.9L433.2 189.9L433.6 188.9L433.6 188.8L434.0 187.7L434.5 186.6L434.7 186.1L434.9 185.5L435.4 184.4L435.8 183.3L435.8 183.3L436.3 182.2L436.8 181.2L437.0 180.7L437.4 180.1L438.0 179.0L438.1 178.8L439.2 177.9L439.4 177.9L440.3 177.9L440.4 177.9L441.5 178.6L441.8 179.0L442.6 179.8L442.8 180.1L443.7 181.0L443.8 181.2L444.8 182.0L445.1 182.2L446.0 182.8L446.7 183.3L447.1 183.6L448.2 184.2L448.5 184.4L449.3 185.0L450.2 185.5L450.5 185.7L451.6 186.3L452.7 186.6L453.8 186.3L454.4 185.5L455.0 184.4L455.0 184.4L455.2 183.3L455.3 182.2L455.2 181.2L455.1 180.1L455.0 179.6L454.7 179.0L454.1 177.9L453.8 177.5L453.1 176.8L452.7 176.4L451.9 175.7L451.6 175.4L450.8 174.6L450.5 174.1L450.1 173.5L449.7 172.5L449.6 171.4L449.4 170.3L449.3 169.2L449.3 169.1L449.2 168.1L448.9 167.0L448.7 165.9L448.4 164.8L448.3 163.7L448.2 163.0L448.2 162.7L448.2 162.0L448.2 161.6L448.4 160.5L448.8 159.4L449.3 158.5L449.5 158.3L450.5 157.5L451.2 157.2L451.6 157.1L452.7 156.9L453.8 156.9L455.0 156.8L456.1 156.8L457.2 156.5L458.1 156.1L458.3 155.9L459.0 155.0L459.3 154.0L459.5 153.1L459.5 152.9L459.7 151.8L459.9 150.7L460.1 149.6L460.2 148.5L460.4 147.4L460.4 146.3L460.3 145.2L460.1 144.2L459.8 143.1L459.5 142.0L459.5 141.8L459.1 140.9L458.7 139.8L458.3 139.2L458.1 138.7L457.2 137.6L457.2 137.6L456.2 136.5L456.1 136.4L455.3 135.5L455.0 134.6L454.9 134.4L455.0 133.7L455.0 133.3L455.8 132.2L456.1 132.0L457.2 131.1L457.2 131.1L458.3 130.4L459.1 130.0L459.5 129.8L460.6 129.3L461.7 128.9ZM354.7 165.8L355.9 165.5L357.0 165.2L358.1 165.1L359.2 165.1L360.4 165.3L361.5 165.4L362.6 165.6L363.7 165.7L364.9 165.8L366.0 165.8L367.1 165.9L367.3 165.9L368.3 166.1L369.4 166.3L370.5 166.8L371.0 167.0L371.6 167.4L372.8 168.0L373.0 168.1L373.9 168.7L374.8 169.2L375.0 169.3L376.1 169.9L376.9 170.3L377.3 170.5L378.4 171.1L378.9 171.4L379.5 171.7L380.5 172.5L380.6 172.5L381.7 173.5L381.8 173.7L382.4 174.6L382.9 175.7L382.9 175.7L383.2 176.8L383.3 177.9L383.4 179.0L383.3 180.1L383.4 181.2L383.6 182.2L384.0 183.1L384.2 183.3L385.1 184.2L385.5 184.4L386.3 184.8L387.4 185.4L387.6 185.5L388.5 185.8L389.7 186.3L390.6 186.6L390.8 186.7L391.9 187.0L393.0 187.3L394.2 187.5L394.9 187.7L395.3 187.8L396.4 188.0L397.5 188.3L398.7 188.7L398.9 188.8L399.8 189.3L400.4 189.9L400.9 190.6L401.1 190.9L401.3 192.0L401.4 193.1L401.3 194.2L401.1 195.3L401.1 196.4L400.9 196.4L399.8 196.4L398.7 196.4L397.5 196.4L396.4 196.4L395.3 196.4L394.2 196.4L393.0 196.4L391.9 196.4L390.8 196.4L389.7 196.4L388.5 196.4L387.4 196.4L386.3 196.4L385.1 196.4L384.0 196.4L383.4 196.4L383.6 195.3L383.8 194.2L384.0 193.3L384.1 193.1L384.0 192.4L384.0 192.0L383.5 190.9L382.9 190.4L382.4 189.9L381.8 189.4L380.9 188.8L380.6 188.6L379.7 187.7L379.5 187.6L378.6 186.6L378.4 186.3L377.8 185.5L377.3 184.6L377.2 184.4L376.6 183.3L376.1 182.5L376.0 182.2L375.5 181.2L375.0 180.2L374.9 180.1L374.5 179.0L374.2 177.9L373.9 176.8L373.9 176.7L373.7 175.7L373.3 174.6L372.8 173.5L372.8 173.4L372.1 172.5L371.6 171.9L371.1 171.4L370.5 170.9L369.7 170.3L369.4 170.1L368.3 169.5L367.3 169.2L367.1 169.1L366.0 168.9L364.9 168.7L363.7 168.5L362.6 168.4L361.5 168.2L361.1 168.1L360.4 168.0L359.2 167.9L358.1 167.8L357.0 167.9L355.9 168.0L355.4 168.1L354.7 168.3L353.6 168.6L352.5 168.9L351.4 169.2L351.4 169.2L350.2 169.7L349.1 170.2L349.0 170.3L348.0 171.1L347.7 171.4L346.9 172.4L346.8 172.5L345.9 173.5L345.7 173.7L344.6 174.6L344.6 174.6L343.5 175.3L342.7 175.7L342.4 175.9L341.2 176.3L340.1 176.6L339.4 176.8L339.0 176.9L337.8 177.2L336.7 177.4L335.6 177.7L334.7 177.9L334.5 177.9L333.3 178.3L332.2 178.7L331.5 179.0L331.1 179.2L330.0 179.7L329.3 180.1L328.8 180.3L327.7 181.0L327.5 181.2L326.6 181.8L325.9 182.2L325.5 182.6L324.5 183.3L324.3 183.5L323.2 184.4L323.2 184.4L322.1 185.3L321.7 185.5L321.0 186.0L320.0 186.6L319.8 186.7L318.7 187.3L317.6 187.7L317.6 187.7L316.4 188.1L315.3 188.4L314.2 188.6L313.5 188.8L313.1 188.9L311.9 189.1L310.8 189.4L309.7 189.6L308.7 189.9L308.6 189.9L307.4 190.3L306.3 190.6L305.2 190.9L304.6 190.9L304.1 191.1L302.9 191.3L301.8 191.2L300.7 191.0L300.4 190.9L299.6 190.9L298.4 190.8L297.3 190.8L296.2 190.8L295.0 190.8L293.9 190.9L293.9 189.9L293.9 188.8L293.9 187.7L293.9 186.6L293.9 185.5L293.9 184.4L293.9 183.3L293.9 182.2L293.9 181.5L295.0 181.3L295.7 181.2L296.2 181.0L297.3 180.7L298.4 180.9L298.8 181.2L299.6 181.6L300.1 182.2L300.7 182.7L301.3 183.3L301.8 183.7L302.7 184.4L302.9 184.6L304.1 185.2L304.8 185.5L305.2 185.6L306.3 185.9L307.4 186.0L308.6 186.0L309.7 186.0L310.8 185.9L311.9 185.8L313.1 185.7L314.1 185.5L314.2 185.5L315.3 185.2L316.4 184.9L317.6 184.5L317.7 184.4L318.7 183.8L319.5 183.3L319.8 183.1L320.9 182.2L321.0 182.2L322.1 181.2L322.2 181.2L323.2 180.3L323.5 180.1L324.3 179.5L325.1 179.0L325.5 178.8L326.6 178.1L327.0 177.9L327.7 177.5L328.8 177.1L329.6 176.8L330.0 176.7L331.1 176.4L332.2 176.2L333.3 176.0L334.5 175.8L335.0 175.7L335.6 175.6L336.7 175.4L337.8 175.2L339.0 174.9L339.8 174.6L340.1 174.5L341.2 173.9L341.7 173.5L342.4 173.0L342.8 172.5L343.5 171.4L343.5 171.3L344.0 170.3L344.5 169.2L344.6 169.1L345.6 168.1L345.7 168.0L346.9 167.6L348.0 167.3L349.1 167.1L349.4 167.0L350.2 166.9L351.4 166.7L352.5 166.4L353.6 166.1L354.3 165.9ZM408.8 168.0L409.9 168.0L411.0 168.1L411.2 168.1L412.2 169.0L412.4 169.2L412.2 169.3L411.0 169.7L409.9 169.8L408.8 169.6L407.7 169.3L407.5 169.2L407.7 168.9L408.3 168.1ZM475.2 188.7L476.4 188.0L477.5 187.8L478.6 187.8L479.7 188.0L480.9 188.4L481.7 188.8L482.0 189.0L483.1 189.9L483.1 189.9L483.9 190.9L484.3 192.0L484.3 192.0L484.3 193.1L484.3 193.5L484.2 194.2L484.0 195.3L483.9 196.4L483.1 196.4L482.0 196.4L480.9 196.4L479.7 196.4L478.6 196.4L477.5 196.4L476.4 196.4L475.2 196.4L474.1 196.4L474.0 196.4L474.0 195.3L473.9 194.2L473.9 193.1L473.9 192.0L474.0 190.9L474.1 190.6L474.4 189.9L475.2 188.8ZM477.3 192.0L477.2 193.1L477.4 194.2L477.5 194.4L478.3 195.3L478.6 195.8L478.9 195.3L479.7 194.2L479.7 194.2L480.0 193.1L480.0 192.0L479.7 191.7L478.6 191.0L477.5 191.6ZM301.8 195.3L302.9 195.1L303.6 195.3L304.1 195.5L304.9 196.4L304.1 196.4L302.9 196.4L301.8 196.4L300.7 196.4L299.9 196.4L300.7 195.9L301.7 195.3Z" fill="#66c7a5" fill-rule="evenodd"/>
<path stroke="#5fb8ad" d="M483.1 121.3L484.3 121.3L485.4 121.3L486.5 121.3L487.6 121.3L488.8 121.3L489.6 121.3L489.8 122.4L489.9 123.0L490.0 123.5L490.2 124.6L490.2 125.7L489.9 126.2L489.7 126.8L488.8 127.7L488.6 127.8L487.6 128.4L486.5 128.8L485.4 128.8L484.3 128.6L483.1 128.0L482.9 127.8L482.2 126.8L482.0 126.2L481.9 125.7L481.8 124.6L481.9 123.5L482.0 123.0L482.1 122.4L482.2 121.3ZM358.1 129.9L359.2 129.8L360.4 129.8L361.5 129.8L362.6 129.9L363.7 129.9L364.8 130.0L364.9 130.0L366.0 130.2L367.1 130.3L368.3 130.5L369.4 130.8L370.1 131.1L370.5 131.4L371.4 132.2L371.2 133.3L370.5 133.7L369.4 134.2L368.7 134.4L368.3 134.4L367.1 134.6L366.0 134.7L364.9 134.8L363.7 134.9L362.6 135.0L361.5 135.2L360.4 135.3L359.2 135.4L358.9 135.5L358.1 135.5L358.0 135.5L357.0 135.3L355.9 135.0L354.7 134.4L354.7 134.4L353.7 133.3L353.6 132.5L353.6 132.2L353.6 132.1L354.4 131.1L354.7 130.9L355.9 130.4L357.0 130.1L357.3 130.0ZM359.6 132.2L360.4 132.3L360.4 132.2L360.4 132.2ZM461.7 133.1L462.5 133.3L462.9 133.4L464.0 133.8L465.1 134.3L465.2 134.4L466.2 134.8L467.4 135.3L467.8 135.5L468.5 135.8L469.6 136.2L470.2 136.5L470.7 136.8L471.9 137.5L472.0 137.6L473.0 138.4L473.4 138.7L474.1 139.2L474.9 139.8L475.2 140.0L476.4 140.7L476.7 140.9L477.5 141.3L478.6 141.9L478.8 142.0L479.7 142.5L480.7 143.1L480.9 143.2L482.0 144.0L482.2 144.2L483.1 144.8L483.7 145.2L484.3 145.6L485.4 146.3L485.5 146.3L486.5 146.9L487.4 147.4L487.6 147.5L488.8 148.2L489.3 148.5L489.9 148.9L490.9 149.6L491.0 149.7L492.1 150.6L492.3 150.7L493.3 151.5L493.7 151.8L494.4 152.3L495.4 152.9L495.5 153.0L496.6 153.5L497.7 154.0L497.8 154.0L498.9 154.4L500.0 154.7L501.1 154.9L502.3 155.0L503.4 155.0L504.5 155.0L505.7 154.9L506.8 154.9L506.8 155.0L506.8 156.1L506.8 157.1L505.7 157.1L504.5 157.2L503.4 157.2L502.3 157.2L501.1 157.1L500.0 156.9L498.9 156.6L497.8 156.2L497.7 156.1L496.6 155.6L495.7 155.0L495.5 154.9L494.4 154.2L494.1 154.0L493.3 153.3L492.7 152.9L492.1 152.4L491.4 151.8L491.0 151.4L490.1 150.7L489.9 150.5L488.8 149.8L488.5 149.6L487.6 149.1L486.5 148.5L486.5 148.5L485.4 147.9L484.4 147.4L484.3 147.3L483.1 146.7L482.6 146.3L482.0 145.9L481.0 145.2L480.9 145.1L479.7 144.4L479.3 144.2L478.6 143.8L477.5 143.2L477.1 143.1L476.4 142.8L475.2 142.4L474.3 142.0L474.1 141.9L473.0 141.5L471.9 141.1L471.4 140.9L470.7 140.7L469.6 140.6L468.7 140.9L468.5 141.3L468.4 142.0L468.5 142.8L468.5 143.1L468.9 144.2L469.5 145.2L469.6 145.5L470.1 146.3L470.7 147.4L470.8 147.4L471.4 148.5L471.9 149.4L471.9 149.6L472.4 150.7L472.7 151.8L473.0 152.9L473.0 153.0L473.2 154.0L473.4 155.0L473.8 156.1L474.1 157.1L474.2 157.2L474.7 158.3L475.2 159.0L475.5 159.4L476.4 160.2L476.7 160.5L477.5 161.0L478.6 161.6L478.6 161.6L479.7 162.1L480.9 162.5L481.3 162.7L482.0 162.9L483.1 163.3L484.2 163.7L484.3 163.8L485.4 164.2L486.5 164.5L487.6 164.7L488.8 164.7L489.9 164.5L491.0 164.2L492.1 163.9L492.5 163.7L493.3 163.5L494.4 163.2L495.5 163.0L496.6 162.9L497.8 162.9L498.9 163.0L500.0 163.1L501.1 163.1L502.3 163.1L503.4 163.1L504.5 163.1L505.7 163.1L506.8 163.1L506.8 163.7L506.8 164.7L505.7 164.7L504.5 164.7L503.4 164.7L502.3 164.7L501.1 164.7L500.0 164.7L498.9 164.8L497.8 164.8L497.6 164.8L496.6 164.9L495.5 165.2L494.4 165.5L493.3 165.9L493.3 166.0L492.1 166.5L491.0 167.0L490.8 167.0L489.9 167.3L488.8 167.6L487.6 167.8L486.5 167.8L485.4 167.8L484.3 167.6L483.1 167.4L482.0 167.1L481.7 167.0L480.9 166.8L479.7 166.4L478.6 166.1L478.2 165.9L477.5 165.7L476.4 165.4L475.2 165.1L474.5 164.8L474.1 164.7L473.0 164.3L471.9 163.7L471.9 163.7L470.7 163.0L470.2 162.7L469.6 162.1L469.1 161.6L468.5 160.7L468.3 160.5L467.7 159.4L467.4 158.8L467.1 158.3L466.8 157.2L466.6 156.1L466.7 155.0L466.9 154.0L467.2 152.9L467.3 151.8L467.2 150.7L466.9 149.6L466.4 148.5L466.2 148.2L465.9 147.4L465.4 146.3L465.1 145.8L464.9 145.2L464.4 144.2L464.0 143.2L463.9 143.1L463.5 142.0L463.0 140.9L462.9 140.5L462.6 139.8L462.1 138.7L461.7 137.9L461.6 137.6L461.0 136.5L460.6 135.8L460.4 135.5L460.0 134.4L460.6 133.3L460.8 133.3ZM307.4 139.8L308.6 139.8L309.7 139.8L310.8 139.8L311.3 139.8L311.9 139.8L313.1 139.8L314.2 139.9L315.3 140.2L316.4 140.6L316.9 140.9L317.6 141.3L318.7 141.9L318.9 142.0L319.8 142.3L321.0 142.5L322.1 142.6L323.2 142.7L324.3 142.7L325.5 142.8L326.6 142.8L327.7 142.9L328.8 143.1L328.9 143.1L330.0 143.2L331.1 143.5L332.2 143.7L333.3 143.9L334.5 144.1L335.3 144.2L335.6 144.2L336.7 144.4L337.8 144.6L339.0 145.2L339.0 145.3L339.7 146.3L339.9 147.4L339.9 148.5L339.7 149.6L339.2 150.7L339.0 151.1L338.4 151.8L337.8 152.3L336.9 152.9L336.7 153.0L335.6 153.5L334.5 153.9L334.4 154.0L333.3 154.4L332.2 155.0L332.1 155.0L331.1 155.7L330.5 156.1L330.0 156.5L329.1 157.2L328.8 157.5L327.8 158.3L327.7 158.4L326.6 159.2L326.1 159.4L325.5 159.7L324.3 160.1L323.2 160.3L322.4 160.5L322.1 160.6L321.0 160.8L319.8 161.1L318.7 161.3L317.6 161.6L317.5 161.6L316.4 161.8L315.3 161.9L314.2 162.0L313.1 161.9L311.9 161.8L311.1 161.6L310.8 161.4L309.7 160.7L309.4 160.5L308.6 159.6L308.4 159.4L307.4 158.4L307.3 158.3L306.3 157.5L305.8 157.2L305.2 156.9L304.1 156.4L303.4 156.1L302.9 156.0L301.8 155.6L300.7 155.2L299.9 155.0L299.6 155.0L298.4 154.8L297.3 154.8L296.2 154.8L295.0 154.9L293.9 154.9L293.9 154.0L293.9 152.9L293.9 151.8L293.9 150.7L293.9 149.6L293.9 148.5L293.9 147.4L293.9 146.3L293.9 145.2L293.9 144.2L293.9 143.1L293.9 142.0L293.9 140.9L293.9 140.7L295.0 140.8L296.2 140.8L297.3 140.8L298.4 140.8L299.6 140.7L300.7 140.5L301.8 140.3L302.9 140.1L304.1 140.0L305.2 139.9L306.3 139.8L307.1 139.8ZM305.9 145.2L305.2 146.0L304.9 146.3L304.8 147.4L305.2 148.5L305.2 148.5L306.3 149.6L306.3 149.6L307.4 150.1L308.6 150.4L309.7 150.7L309.7 150.7L310.8 151.0L311.9 151.5L312.3 151.8L313.1 152.3L313.8 152.9L314.2 153.2L315.1 154.0L315.3 154.1L316.4 155.0L316.6 155.0L317.6 155.6L318.7 156.1L318.8 156.1L319.8 156.4L321.0 156.5L322.1 156.4L323.2 156.2L323.4 156.1L324.3 155.8L325.5 155.3L325.8 155.0L326.6 154.6L327.5 154.0L327.7 153.8L328.8 153.0L329.1 152.9L330.0 152.2L330.6 151.8L331.1 151.4L332.0 150.7L332.2 150.3L332.8 149.6L332.2 148.6L332.2 148.5L331.1 147.9L330.2 147.4L330.0 147.3L328.8 147.0L327.7 146.7L326.6 146.6L325.5 146.5L324.3 146.5L323.2 146.6L322.1 146.8L321.0 146.9L319.8 147.1L318.7 147.3L317.6 147.4L316.4 147.4L315.3 147.3L314.2 147.0L313.1 146.5L312.8 146.3L311.9 145.8L311.0 145.2L310.8 145.1L309.7 144.8L308.6 144.7L307.4 144.7L306.3 145.0ZM451.6 160.2L452.7 159.6L453.8 159.4L455.0 159.4L456.1 159.7L457.2 160.1L457.8 160.5L458.3 161.0L458.8 161.6L459.4 162.7L459.5 162.7L460.0 163.7L460.5 164.8L460.6 165.1L461.2 165.9L461.7 166.6L462.1 167.0L462.9 167.6L463.5 168.1L464.0 168.5L464.6 169.2L465.1 169.9L465.4 170.3L465.7 171.4L465.7 172.5L465.5 173.5L465.2 174.6L465.1 174.9L464.8 175.7L464.5 176.8L464.2 177.9L464.0 178.6L463.9 179.0L463.6 180.1L463.3 181.2L463.1 182.2L462.9 183.3L462.9 183.5L462.6 184.4L462.5 185.5L462.4 186.6L462.7 187.7L462.9 187.8L464.0 188.6L465.1 188.8L466.2 188.7L467.4 188.6L468.5 188.3L469.6 187.9L470.0 187.7L470.7 187.3L471.9 186.7L472.0 186.6L473.0 186.1L473.9 185.5L474.1 185.4L475.2 185.0L476.4 184.7L477.2 184.4L477.5 184.4L478.6 184.2L479.7 184.1L480.9 184.0L482.0 183.9L483.1 183.8L484.3 183.6L485.4 183.4L485.4 183.3L486.5 183.0L487.6 182.6L488.2 182.2L488.8 181.9L489.7 181.2L489.9 181.0L491.0 180.2L491.3 180.1L492.1 179.7L493.3 179.4L494.4 179.3L495.5 179.2L496.6 179.1L497.8 179.1L498.9 179.0L499.7 179.0L500.0 179.0L501.1 178.9L502.3 178.8L503.4 178.8L504.5 178.8L505.7 178.9L506.8 178.9L506.8 179.0L506.8 180.1L506.8 181.2L506.8 182.2L506.8 183.3L506.8 184.4L506.8 185.5L506.8 186.6L506.8 187.7L506.8 188.8L506.8 189.9L506.8 190.9L506.8 192.0L506.8 193.1L506.8 194.2L506.8 195.3L506.8 196.4L505.7 196.4L504.5 196.4L503.4 196.4L502.3 196.4L501.1 196.4L500.0 196.4L498.9 196.4L497.8 196.4L496.6 196.4L495.5 196.4L494.4 196.4L493.3 196.4L492.1 196.4L491.0 196.4L489.9 196.4L488.8 196.4L487.6 196.4L486.5 196.4L485.4 196.4L484.3 196.4L483.9 196.4L484.0 195.3L484.2 194.2L484.3 193.5L484.3 193.1L484.3 192.0L484.3 192.0L483.9 190.9L483.1 189.9L483.1 189.9L482.0 189.0L481.7 188.8L480.9 188.4L479.7 188.0L478.6 187.8L477.5 187.8L476.4 188.0L475.2 188.7L475.2 188.8L474.4 189.9L474.1 190.6L474.0 190.9L473.9 192.0L473.9 193.1L473.9 194.2L474.0 195.3L474.0 196.4L473.0 196.4L471.9 196.4L470.7 196.4L469.6 196.4L468.5 196.4L467.4 196.4L466.2 196.4L465.1 196.4L464.0 196.4L462.9 196.4L461.7 196.4L460.8 196.4L460.8 195.3L460.9 194.2L460.9 193.1L460.9 192.0L460.8 190.9L460.7 189.9L460.6 189.7L460.3 188.8L459.5 187.7L459.5 187.7L458.8 186.6L458.3 185.8L458.3 185.5L457.9 184.4L457.6 183.3L457.3 182.2L457.2 181.9L457.1 181.2L456.8 180.1L456.5 179.0L456.1 178.0L456.0 177.9L455.5 176.8L455.0 176.0L454.7 175.7L453.9 174.6L453.8 174.6L453.0 173.5L452.7 173.0L452.4 172.5L451.9 171.4L451.6 170.3L451.6 170.2L451.4 169.2L451.1 168.1L450.9 167.0L450.7 165.9L450.5 164.8L450.5 164.4L450.4 163.7L450.4 162.7L450.5 162.0L450.6 161.6L451.2 160.5ZM453.1 162.7L452.7 163.3L452.6 163.7L452.5 164.8L452.5 165.9L452.6 167.0L452.7 167.4L452.8 168.1L453.1 169.2L453.4 170.3L453.8 171.3L453.9 171.4L454.5 172.5L455.0 173.2L455.2 173.5L455.9 174.6L456.1 174.9L456.5 175.7L457.0 176.8L457.2 177.2L457.5 177.9L458.0 179.0L458.3 180.0L458.4 180.1L459.0 181.2L459.5 181.9L460.3 182.2L460.6 182.4L460.7 182.2L461.7 181.2L461.8 181.2L462.2 180.1L462.6 179.0L462.9 178.4L463.0 177.9L463.3 176.8L463.6 175.7L463.8 174.6L463.9 173.5L463.7 172.5L463.3 171.4L462.9 170.8L462.4 170.3L461.7 169.7L461.2 169.2L460.6 168.7L460.0 168.1L459.5 167.4L459.2 167.0L458.6 165.9L458.3 165.5L458.0 164.8L457.4 163.7L457.2 163.5L456.4 162.7L456.1 162.4L455.0 162.0L453.8 162.1ZM355.9 168.0L357.0 167.9L358.1 167.8L359.2 167.9L360.4 168.0L361.1 168.1L361.5 168.2L362.6 168.4L363.7 168.5L364.9 168.7L366.0 168.9L367.1 169.1L367.3 169.2L368.3 169.5L369.4 170.1L369.7 170.3L370.5 170.9L371.1 171.4L371.6 171.9L372.1 172.5L372.8 173.4L372.8 173.5L373.3 174.6L373.7 175.7L373.9 176.7L373.9 176.8L374.2 177.9L374.5 179.0L374.9 180.1L375.0 180.2L375.5 181.2L376.0 182.2L376.1 182.5L376.6 183.3L377.2 184.4L377.3 184.6L377.8 185.5L378.4 186.3L378.6 186.6L379.5 187.6L379.7 187.7L380.6 188.6L380.9 188.8L381.8 189.4L382.4 189.9L382.9 190.4L383.5 190.9L384.0 192.0L384.0 192.4L384.1 193.1L384.0 193.3L383.8 194.2L383.6 195.3L383.4 196.4L382.9 196.4L381.8 196.4L380.6 196.4L379.5 196.4L378.4 196.4L377.3 196.4L376.1 196.4L375.0 196.4L374.4 196.4L374.5 195.3L374.6 194.2L374.7 193.1L374.7 192.0L374.5 190.9L374.0 189.9L373.9 189.6L373.4 188.8L372.8 188.0L372.5 187.7L371.6 186.9L371.2 186.6L370.5 186.1L369.7 185.5L369.4 185.3L368.3 184.4L368.3 184.4L367.1 183.3L367.1 183.3L366.1 182.2L366.0 182.1L365.0 181.2L364.9 181.0L363.9 180.1L363.7 179.7L363.3 179.0L363.7 177.9L363.7 177.8L364.7 176.8L364.9 176.6L365.5 175.7L365.6 174.6L364.9 173.7L364.8 173.5L363.7 173.0L362.8 172.5L362.6 172.4L361.5 171.9L360.4 171.5L359.9 171.4L359.2 171.2L358.1 171.1L357.0 171.1L355.9 171.3L355.6 171.4L354.7 171.7L353.6 172.3L353.4 172.5L352.5 173.2L352.1 173.5L351.4 174.2L350.8 174.6L350.2 175.1L349.1 175.7L349.1 175.7L348.0 176.2L346.9 176.7L346.5 176.8L345.7 177.0L344.6 177.4L343.5 177.7L342.6 177.9L342.4 178.0L341.2 178.2L340.1 178.5L339.0 178.7L338.0 179.0L337.8 179.0L336.7 179.3L335.6 179.7L334.5 180.1L334.5 180.1L333.3 180.6L332.2 181.1L332.2 181.2L331.1 181.8L330.3 182.2L330.0 182.4L328.8 183.2L328.6 183.3L327.7 184.0L327.1 184.4L326.6 184.8L325.7 185.5L325.5 185.7L324.5 186.6L324.3 186.7L323.3 187.7L323.2 187.7L322.1 188.7L322.0 188.8L321.0 189.7L320.7 189.9L319.8 190.8L319.6 190.9L318.9 192.0L318.9 193.1L319.1 194.2L319.4 195.3L319.6 196.4L318.7 196.4L317.6 196.4L316.4 196.4L315.3 196.4L314.2 196.4L313.1 196.4L311.9 196.4L310.8 196.4L309.7 196.4L308.6 196.4L307.4 196.4L306.3 196.4L305.2 196.4L304.9 196.4L304.1 195.5L303.6 195.3L302.9 195.1L301.8 195.3L301.7 195.3L300.7 195.9L299.9 196.4L299.6 196.4L298.4 196.4L297.3 196.4L296.2 196.4L295.0 196.4L293.9 196.4L293.9 195.3L293.9 194.2L293.9 193.1L293.9 192.0L293.9 190.9L293.9 190.9L295.0 190.8L296.2 190.8L297.3 190.8L298.4 190.8L299.6 190.9L300.4 190.9L300.7 191.0L301.8 191.2L302.9 191.3L304.1 191.1L304.6 190.9L305.2 190.9L306.3 190.6L307.4 190.3L308.6 189.9L308.7 189.9L309.7 189.6L310.8 189.4L311.9 189.1L313.1 188.9L313.5 188.8L314.2 188.6L315.3 188.4L316.4 188.1L317.6 187.7L317.6 187.7L318.7 187.3L319.8 186.7L320.0 186.6L321.0 186.0L321.7 185.5L322.1 185.3L323.2 184.4L323.2 184.4L324.3 183.5L324.5 183.3L325.5 182.6L325.9 182.2L326.6 181.8L327.5 181.2L327.7 181.0L328.8 180.3L329.3 180.1L330.0 179.7L331.1 179.2L331.5 179.0L332.2 178.7L333.3 178.3L334.5 177.9L334.7 177.9L335.6 177.7L336.7 177.4L337.8 177.2L339.0 176.9L339.4 176.8L340.1 176.6L341.2 176.3L342.4 175.9L342.7 175.7L343.5 175.3L344.6 174.6L344.6 174.6L345.7 173.7L345.9 173.5L346.8 172.5L346.9 172.4L347.7 171.4L348.0 171.1L349.0 170.3L349.1 170.2L350.2 169.7L351.4 169.2L351.4 169.2L352.5 168.9L353.6 168.6L354.7 168.3L355.4 168.1ZM438.1 190.9L439.2 190.0L440.2 190.9L440.3 191.3L440.5 192.0L440.5 193.1L440.4 194.2L440.3 195.1L440.3 195.3L440.1 196.4L439.2 196.4L438.1 196.4L438.1 196.4L438.0 195.3L437.9 194.2L437.9 193.1L437.9 192.0L438.1 190.9Z" fill="#5fb8ad" fill-rule="evenodd"/>
<path stroke="#63a9b1" d="M360.4 132.2L360.4 132.2L360.4 132.3L359.6 132.2ZM469.6 140.6L470.7 140.7L471.4 140.9L471.9 141.1L473.0 141.5L474.1 141.9L474.3 142.0L475.2 142.4L476.4 142.8L477.1 143.1L477.5 143.2L478.6 143.8L479.3 144.2L479.7 144.4L480.9 145.1L481.0 145.2L482.0 145.9L482.6 146.3L483.1 146.7L484.3 147.3L484.4 147.4L485.4 147.9L486.5 148.5L486.5 148.5L487.6 149.1L488.5 149.6L488.8 149.8L489.9 150.5L490.1 150.7L491.0 151.4L491.4 151.8L492.1 152.4L492.7 152.9L493.3 153.3L494.1 154.0L494.4 154.2L495.5 154.9L495.7 155.0L496.6 155.6L497.7 156.1L497.8 156.2L498.9 156.6L500.0 156.9L501.1 157.1L502.3 157.2L503.4 157.2L504.5 157.2L505.7 157.1L506.8 157.1L506.8 157.2L506.8 158.3L506.8 159.4L506.8 160.5L506.8 161.6L506.8 162.7L506.8 163.1L505.7 163.1L504.5 163.1L503.4 163.1L502.3 163.1L501.1 163.1L500.0 163.1L498.9 163.0L497.8 162.9L496.6 162.9L495.5 163.0L494.4 163.2L493.3 163.5L492.5 163.7L492.1 163.9L491.0 164.2L489.9 164.5L488.8 164.7L487.6 164.7L486.5 164.5L485.4 164.2L484.3 163.8L484.2 163.7L483.1 163.3L482.0 162.9L481.3 162.7L480.9 162.5L479.7 162.1L478.6 161.6L478.6 161.6L477.5 161.0L476.7 160.5L476.4 160.2L475.5 159.4L475.2 159.0L474.7 158.3L474.2 157.2L474.1 157.1L473.8 156.1L473.4 155.0L473.2 154.0L473.0 153.0L473.0 152.9L472.7 151.8L472.4 150.7L471.9 149.6L471.9 149.4L471.4 148.5L470.8 147.4L470.7 147.4L470.1 146.3L469.6 145.5L469.5 145.2L468.9 144.2L468.5 143.1L468.5 142.8L468.4 142.0L468.5 141.3L468.7 140.9ZM475.7 146.3L475.3 147.4L475.5 148.5L475.7 149.6L476.0 150.7L476.3 151.8L476.4 152.2L476.6 152.9L477.0 154.0L477.5 155.0L477.5 155.0L478.2 156.1L478.6 156.6L479.2 157.2L479.7 157.7L480.6 158.3L480.9 158.5L482.0 159.1L482.5 159.4L483.1 159.7L484.3 160.1L485.1 160.5L485.4 160.6L486.5 160.9L487.6 161.2L488.8 161.3L489.9 161.3L491.0 161.0L492.1 160.7L492.7 160.5L493.3 160.2L494.4 159.5L494.6 159.4L494.8 158.3L494.4 157.5L494.3 157.2L493.4 156.1L493.3 156.0L492.4 155.0L492.1 154.8L491.3 154.0L491.0 153.7L490.1 152.9L489.9 152.6L488.8 151.8L488.8 151.7L487.6 151.0L487.1 150.7L486.5 150.3L485.4 149.8L485.0 149.6L484.3 149.3L483.1 148.7L482.7 148.5L482.0 148.2L480.9 147.6L480.6 147.4L479.7 146.9L478.6 146.3L478.6 146.3L477.5 146.0L476.4 146.0ZM306.3 145.0L307.4 144.7L308.6 144.7L309.7 144.8L310.8 145.1L311.0 145.2L311.9 145.8L312.8 146.3L313.1 146.5L314.2 147.0L315.3 147.3L316.4 147.4L317.6 147.4L318.7 147.3L319.8 147.1L321.0 146.9L322.1 146.8L323.2 146.6L324.3 146.5L325.5 146.5L326.6 146.6L327.7 146.7L328.8 147.0L330.0 147.3L330.2 147.4L331.1 147.9L332.2 148.5L332.2 148.6L332.8 149.6L332.2 150.3L332.0 150.7L331.1 151.4L330.6 151.8L330.0 152.2L329.1 152.9L328.8 153.0L327.7 153.8L327.5 154.0L326.6 154.6L325.8 155.0L325.5 155.3L324.3 155.8L323.4 156.1L323.2 156.2L322.1 156.4L321.0 156.5L319.8 156.4L318.8 156.1L318.7 156.1L317.6 155.6L316.6 155.0L316.4 155.0L315.3 154.1L315.1 154.0L314.2 153.2L313.8 152.9L313.1 152.3L312.3 151.8L311.9 151.5L310.8 151.0L309.7 150.7L309.7 150.7L308.6 150.4L307.4 150.1L306.3 149.6L306.3 149.6L305.2 148.5L305.2 148.5L304.8 147.4L304.9 146.3L305.2 146.0L305.9 145.2ZM453.8 162.1L455.0 162.0L456.1 162.4L456.4 162.7L457.2 163.5L457.4 163.7L458.0 164.8L458.3 165.5L458.6 165.9L459.2 167.0L459.5 167.4L460.0 168.1L460.6 168.7L461.2 169.2L461.7 169.7L462.4 170.3L462.9 170.8L463.3 171.4L463.7 172.5L463.9 173.5L463.8 174.6L463.6 175.7L463.3 176.8L463.0 177.9L462.9 178.4L462.6 179.0L462.2 180.1L461.8 181.2L461.7 181.2L460.7 182.2L460.6 182.4L460.3 182.2L459.5 181.9L459.0 181.2L458.4 180.1L458.3 180.0L458.0 179.0L457.5 177.9L457.2 177.2L457.0 176.8L456.5 175.7L456.1 174.9L455.9 174.6L455.2 173.5L455.0 173.2L454.5 172.5L453.9 171.4L453.8 171.3L453.4 170.3L453.1 169.2L452.8 168.1L452.7 167.4L452.6 167.0L452.5 165.9L452.5 164.8L452.6 163.7L452.7 163.3L453.1 162.7ZM456.0 169.2L456.1 169.5L456.4 170.3L456.8 171.4L457.1 172.5L457.2 172.9L457.5 173.5L457.9 174.6L458.3 175.7L458.3 175.8L458.9 176.8L459.5 177.9L459.5 177.9L460.6 178.5L461.1 177.9L461.7 177.0L461.8 176.8L462.0 175.7L462.1 174.6L462.0 173.5L461.7 172.8L461.5 172.5L460.6 171.5L460.3 171.4L459.5 170.8L458.6 170.3L458.3 170.1L457.2 169.2L457.0 169.2L456.1 168.5ZM355.9 171.3L357.0 171.1L358.1 171.1L359.2 171.2L359.9 171.4L360.4 171.5L361.5 171.9L362.6 172.4L362.8 172.5L363.7 173.0L364.8 173.5L364.9 173.7L365.6 174.6L365.5 175.7L364.9 176.6L364.7 176.8L363.7 177.8L363.7 177.9L363.3 179.0L363.7 179.7L363.9 180.1L364.9 181.0L365.0 181.2L366.0 182.1L366.1 182.2L367.1 183.3L367.1 183.3L368.3 184.4L368.3 184.4L369.4 185.3L369.7 185.5L370.5 186.1L371.2 186.6L371.6 186.9L372.5 187.7L372.8 188.0L373.4 188.8L373.9 189.6L374.0 189.9L374.5 190.9L374.7 192.0L374.7 193.1L374.6 194.2L374.5 195.3L374.4 196.4L373.9 196.4L372.8 196.4L371.6 196.4L370.5 196.4L369.4 196.4L368.3 196.4L367.1 196.4L366.0 196.4L364.9 196.4L363.7 196.4L362.6 196.4L361.5 196.4L361.0 196.4L361.0 195.3L361.0 194.2L361.1 193.1L361.0 192.0L361.0 190.9L360.8 189.9L360.4 188.8L360.4 188.7L359.9 187.7L359.2 186.9L359.0 186.6L358.1 185.7L358.0 185.5L357.0 184.6L356.8 184.4L355.9 183.7L355.5 183.3L354.7 182.7L354.2 182.2L353.6 181.8L352.7 181.2L352.5 181.0L351.4 180.4L350.5 180.1L350.2 180.0L349.1 179.7L348.0 179.6L346.9 179.5L345.7 179.5L344.6 179.6L343.5 179.8L342.4 179.9L341.7 180.1L341.2 180.2L340.1 180.4L339.0 180.7L337.8 181.0L337.5 181.2L336.7 181.4L335.6 181.9L334.9 182.2L334.5 182.5L333.3 183.1L332.9 183.3L332.2 183.8L331.2 184.4L331.1 184.5L330.0 185.2L329.6 185.5L328.8 186.1L328.2 186.6L327.7 187.0L327.0 187.7L326.6 188.1L326.0 188.8L325.5 189.5L325.2 189.9L324.7 190.9L324.4 192.0L324.4 193.1L324.5 194.2L324.6 195.3L324.7 196.4L324.3 196.4L323.2 196.4L322.1 196.4L321.0 196.4L319.8 196.4L319.6 196.4L319.4 195.3L319.1 194.2L318.9 193.1L318.9 192.0L319.6 190.9L319.8 190.8L320.7 189.9L321.0 189.7L322.0 188.8L322.1 188.7L323.2 187.7L323.3 187.7L324.3 186.7L324.5 186.6L325.5 185.7L325.7 185.5L326.6 184.8L327.1 184.4L327.7 184.0L328.6 183.3L328.8 183.2L330.0 182.4L330.3 182.2L331.1 181.8L332.2 181.2L332.2 181.1L333.3 180.6L334.5 180.1L334.5 180.1L335.6 179.7L336.7 179.3L337.8 179.0L338.0 179.0L339.0 178.7L340.1 178.5L341.2 178.2L342.4 178.0L342.6 177.9L343.5 177.7L344.6 177.4L345.7 177.0L346.5 176.8L346.9 176.7L348.0 176.2L349.1 175.7L349.1 175.7L350.2 175.1L350.8 174.6L351.4 174.2L352.1 173.5L352.5 173.2L353.4 172.5L353.6 172.3L354.7 171.7L355.6 171.4Z" fill="#63a9b1" fill-rule="evenodd"/>
<path stroke="#699bb2" d="M476.4 146.0L477.5 146.0L478.6 146.3L478.6 146.3L479.7 146.9L480.6 147.4L480.9 147.6L482.0 148.2L482.7 148.5L483.1 148.7L484.3 149.3L485.0 149.6L485.4 149.8L486.5 150.3L487.1 150.7L487.6 151.0L488.8 151.7L488.8 151.8L489.9 152.6L490.1 152.9L491.0 153.7L491.3 154.0L492.1 154.8L492.4 155.0L493.3 156.0L493.4 156.1L494.3 157.2L494.4 157.5L494.8 158.3L494.6 159.4L494.4 159.5L493.3 160.2L492.7 160.5L492.1 160.7L491.0 161.0L489.9 161.3L488.8 161.3L487.6 161.2L486.5 160.9L485.4 160.6L485.1 160.5L484.3 160.1L483.1 159.7L482.5 159.4L482.0 159.1L480.9 158.5L480.6 158.3L479.7 157.7L479.2 157.2L478.6 156.6L478.2 156.1L477.5 155.0L477.5 155.0L477.0 154.0L476.6 152.9L476.4 152.2L476.3 151.8L476.0 150.7L475.7 149.6L475.5 148.5L475.3 147.4L475.7 146.3ZM483.2 154.0L484.1 155.0L484.3 155.2L485.4 155.8L486.0 156.1L486.5 156.3L487.6 156.2L487.8 156.1L487.7 155.0L487.6 155.0L486.6 154.0L486.5 153.9L485.4 153.4L484.3 153.0ZM456.1 168.5L457.0 169.2L457.2 169.2L458.3 170.1L458.6 170.3L459.5 170.8L460.3 171.4L460.6 171.5L461.5 172.5L461.7 172.8L462.0 173.5L462.1 174.6L462.0 175.7L461.8 176.8L461.7 177.0L461.1 177.9L460.6 178.5L459.5 177.9L459.5 177.9L458.9 176.8L458.3 175.8L458.3 175.7L457.9 174.6L457.5 173.5L457.2 172.9L457.1 172.5L456.8 171.4L456.4 170.3L456.1 169.5L456.0 169.2ZM342.4 179.9L343.5 179.8L344.6 179.6L345.7 179.5L346.9 179.5L348.0 179.6L349.1 179.7L350.2 180.0L350.5 180.1L351.4 180.4L352.5 181.0L352.7 181.2L353.6 181.8L354.2 182.2L354.7 182.7L355.5 183.3L355.9 183.7L356.8 184.4L357.0 184.6L358.0 185.5L358.1 185.7L359.0 186.6L359.2 186.9L359.9 187.7L360.4 188.7L360.4 188.8L360.8 189.9L361.0 190.9L361.0 192.0L361.1 193.1L361.0 194.2L361.0 195.3L361.0 196.4L360.4 196.4L359.2 196.4L358.1 196.4L357.0 196.4L355.9 196.4L354.7 196.4L354.2 196.4L354.2 195.3L354.3 194.2L354.3 193.1L354.3 192.0L354.2 190.9L354.0 189.9L353.7 188.8L353.6 188.6L353.2 187.7L352.7 186.6L352.5 186.3L351.9 185.5L351.4 184.8L351.0 184.4L350.2 183.7L349.7 183.3L349.1 183.0L348.0 182.5L347.3 182.2L346.9 182.1L345.7 181.9L344.6 181.9L343.5 182.0L342.4 182.1L341.5 182.2L341.2 182.3L340.1 182.6L339.0 183.0L338.1 183.3L337.8 183.4L336.7 184.0L336.0 184.4L335.6 184.6L334.5 185.3L334.2 185.5L333.3 186.1L332.5 186.6L332.2 186.8L331.1 187.7L331.1 187.7L330.0 188.7L329.9 188.8L329.0 189.9L328.8 190.1L328.4 190.9L328.2 192.0L328.2 193.1L328.3 194.2L328.4 195.3L328.5 196.4L327.7 196.4L326.6 196.4L325.5 196.4L324.7 196.4L324.6 195.3L324.5 194.2L324.4 193.1L324.4 192.0L324.7 190.9L325.2 189.9L325.5 189.5L326.0 188.8L326.6 188.1L327.0 187.7L327.7 187.0L328.2 186.6L328.8 186.1L329.6 185.5L330.0 185.2L331.1 184.5L331.2 184.4L332.2 183.8L332.9 183.3L333.3 183.1L334.5 182.5L334.9 182.2L335.6 181.9L336.7 181.4L337.5 181.2L337.8 181.0L339.0 180.7L340.1 180.4L341.2 180.2L341.7 180.1Z" fill="#699bb2" fill-rule="evenodd"/>
<path stroke="#6d8cb2" d="M484.3 153.0L485.4 153.4L486.5 153.9L486.6 154.0L487.6 155.0L487.7 155.0L487.8 156.1L487.6 156.2L486.5 156.3L486.0 156.1L485.4 155.8L484.3 155.2L484.1 155.0L483.2 154.0ZM342.4 182.1L343.5 182.0L344.6 181.9L345.7 181.9L346.9 182.1L347.3 182.2L348.0 182.5L349.1 183.0L349.7 183.3L350.2 183.7L351.0 184.4L351.4 184.8L351.9 185.5L352.5 186.3L352.7 186.6L353.2 187.7L353.6 188.6L353.7 188.8L354.0 189.9L354.2 190.9L354.3 192.0L354.3 193.1L354.3 194.2L354.2 195.3L354.2 196.4L353.6 196.4L352.5 196.4L351.4 196.4L350.2 196.4L349.1 196.4L348.8 196.4L348.8 195.3L348.9 194.2L348.9 193.1L348.9 192.0L348.8 190.9L348.8 189.9L348.6 188.8L348.3 187.7L348.0 187.1L347.7 186.6L346.9 185.7L346.6 185.5L345.7 185.1L344.6 184.8L343.5 184.8L342.4 184.9L341.2 185.2L340.3 185.5L340.1 185.6L339.0 186.2L338.3 186.6L337.8 186.9L336.7 187.6L336.6 187.7L335.6 188.5L335.3 188.8L334.5 189.6L334.2 189.9L333.5 190.9L333.3 191.5L333.2 192.0L333.2 193.1L333.3 194.2L333.3 194.6L333.4 195.3L333.5 196.4L333.3 196.4L332.2 196.4L331.1 196.4L330.0 196.4L328.8 196.4L328.5 196.4L328.4 195.3L328.3 194.2L328.2 193.1L328.2 192.0L328.4 190.9L328.8 190.1L329.0 189.9L329.9 188.8L330.0 188.7L331.1 187.7L331.1 187.7L332.2 186.8L332.5 186.6L333.3 186.1L334.2 185.5L334.5 185.3L335.6 184.6L336.0 184.4L336.7 184.0L337.8 183.4L338.1 183.3L339.0 183.0L340.1 182.6L341.2 182.3L341.5 182.2Z" fill="#6d8cb2" fill-rule="evenodd"/>
<path stroke="#747db0" d="M341.2 185.2L342.4 184.9L343.5 184.8L344.6 184.8L345.7 185.1L346.6 185.5L346.9 185.7L347.7 186.6L348.0 187.1L348.3 187.7L348.6 188.8L348.8 189.9L348.8 190.9L348.9 192.0L348.9 193.1L348.9 194.2L348.8 195.3L348.8 196.4L348.0 196.4L346.9 196.4L345.7 196.4L344.6 196.4L343.5 196.4L342.4 196.4L341.2 196.4L340.1 196.4L339.0 196.4L337.8 196.4L336.7 196.4L335.6 196.4L334.5 196.4L333.5 196.4L333.4 195.3L333.3 194.6L333.3 194.2L333.2 193.1L333.2 192.0L333.3 191.5L333.5 190.9L334.2 189.9L334.5 189.6L335.3 188.8L335.6 188.5L336.6 187.7L336.7 187.6L337.8 186.9L338.3 186.6L339.0 186.2L340.1 185.6L340.3 185.5Z" fill="#747db0" fill-rule="evenodd"/>
</g>
<g filter="url(#bl)">
<path d="M444.8 156.3L446.1 158.7L447.5 161.4L450.2 165.3L451.0 168.1L451.4 171.3L452.6 174.1L454.7 175.0L456.6 180.6L459.9 182.6L464.1 186.6L465.0 187.3L465.7 187.5L465.4 185.9L464.7 182.4L463.7 177.6L461.3 174.6L460.4 172.4L458.5 170.1L456.0 166.9L455.6 163.9L453.4 161.0L451.6 158.8L449.7 156.0L448.0 153.4L445.5 151.9L443.6 153.7Z" fill="#5fb8ad" />
<path d="M448.4 162.8L450.2 165.3L451.0 168.1L451.4 171.3L452.6 174.1L454.7 175.0L456.6 180.6L459.9 182.6L464.1 186.6L465.0 187.3L465.7 187.5L465.4 185.9L464.7 182.4L463.7 177.6L461.3 174.6L460.4 172.4L458.5 170.1L456.0 166.9L455.6 163.9L454.4 162.3Z" fill="#63a9b1" />
<path d="M451.0 168.1L451.4 171.3L452.6 174.1L454.7 175.0L456.6 180.6L459.9 182.6L463.2 185.6L464.7 182.4L463.7 177.6L461.3 174.6L460.4 172.4L458.5 170.1L456.3 167.4Z" fill="#699bb2" />
<path d="M476.3 148.5L477.4 147.3L479.7 147.1L482.0 149.1L484.3 152.4L487.8 154.9L491.2 155.2L495.4 154.0L495.6 156.1L494.7 157.2L493.1 158.2L491.0 160.5L486.6 160.7L484.6 160.0L484.6 156.5L483.2 156.5L482.7 159.3L481.3 157.2L481.1 154.9L478.6 152.8L477.4 150.8Z" fill="#699bb2" />
<path d="M478.6 123.0L478.4 127.9L480.9 130.2L485.5 131.8L490.1 131.4L489.9 128.8L487.8 125.4L487.3 123.0Z" fill="#5fb8ad" />
<path d="M352.9 133.4L355.5 131.8L360.8 131.8L364.2 130.4L368.1 131.1L365.8 133.9L361.2 135.5L358.9 135.3L353.6 133.7Z" fill="#5fb8ad" />
</g>
<path d="M437.6 143.8L437.6 147.3L436.7 150.8L437.2 154.2L441.1 156.5L441.5 161.2L440.6 164.6L437.9 166.2L436.0 171.6L438.3 174.6L441.8 171.6L443.8 175.0L444.1 176.2L441.8 179.6L440.6 180.6L442.9 183.1L445.2 188.9L446.8 191.2L448.7 192.3L451.0 190.0M440.6 180.6L441.1 186.6L441.1 191.2L439.5 195.8M341.7 195.8L347.4 188.9L348.6 187.0L352.0 185.4L355.5 183.6L356.6 180.8L358.9 178.0L363.5 177.3L365.8 177.8L367.0 179.6L369.3 181.9L370.4 185.0L373.4 188.2L374.1 190.0L376.2 192.3L376.4 195.8M327.9 179.6L331.3 178.3L334.8 179.2L337.5 182.4L339.4 184.3L340.5 186.6L341.0 188.9M355.5 183.6L353.2 186.6L352.0 188.9L351.3 191.2M454.4 130.0L453.3 132.7L455.6 133.7L459.0 135.8L460.2 137.4L463.6 138.1L466.4 140.4L467.8 142.7L470.5 144.3L474.0 145.0L475.1 145.5L477.4 147.3M459.0 129.1L462.5 130.4L465.0 132.7L466.4 135.8L468.0 139.4L470.5 141.5L473.5 143.1L474.9 145.0M400.4 193.5L400.4 188.9L399.2 186.6M358.9 185.4L359.4 188.9L359.6 191.2L360.1 194.7M362.4 185.9L363.5 189.3L364.0 192.3L363.5 194.7M337.8 182.4L339.6 185.4L340.1 188.2L338.7 191.2M341.0 184.7L342.1 187.7L341.7 190.0L339.4 191.9M327.9 185.4L331.3 185.4L334.1 185.6L335.9 186.6L337.5 187.7M347.0 188.9L347.0 191.2L346.3 194.7M375.3 189.6L377.3 187.0L379.6 186.1M444.1 176.2L447.5 180.8L449.8 183.6L452.1 185.4M349.7 186.6L348.6 190.0L349.0 193.5" fill="none" stroke="#a9bbe6" stroke-width="0.5" stroke-linejoin="round"/>
<path d="M360.8 135.5L361.9 139.2L363.1 142.2L357.5 143.4L357.3 145.2L353.2 147.5L349.0 148.7L345.8 150.3L345.8 152.6L335.5 152.6M345.8 153.5L345.8 156.5L338.2 156.5L338.2 162.3L335.9 163.5L335.9 167.4L326.7 167.4M345.8 153.5L354.8 158.8L368.6 167.9L368.6 168.6L373.2 170.9L375.5 172.5L375.5 177.6L375.5 180.8L373.9 181.0L368.1 181.9L366.3 181.9L364.2 181.7L361.2 183.8L358.9 185.0L355.9 186.1L353.6 189.3L353.2 192.6L353.2 195.8M354.8 158.8L350.9 158.8L352.9 178.5L353.6 180.8L341.2 181.0L339.4 180.6L337.8 182.4L334.8 179.4L332.5 178.3L328.3 179.4M337.8 182.4L339.6 188.0L334.3 187.5L327.4 188.0M327.2 185.2L331.3 184.7L334.1 185.6L331.3 186.1L327.2 186.3M339.6 188.0L345.1 188.0L347.4 193.0L347.4 195.8M375.5 172.5L379.2 171.6L383.1 168.6L393.4 162.3L388.8 160.0L387.5 156.1L388.6 155.2L388.4 151.2L388.6 147.8L387.7 146.8L389.3 145.5L389.5 143.4L392.3 141.5L392.3 139.9M387.7 146.8L386.8 142.7L383.1 139.2L384.9 135.8L385.6 131.4M393.4 162.3L398.5 164.4L400.4 163.5L402.7 162.3L421.1 171.6M423.4 143.6L423.4 165.8L450.7 165.8M423.4 165.8L423.4 170.4L421.1 170.4L421.1 171.6L421.1 180.3L418.5 180.8L417.6 184.0L416.9 186.6L417.8 190.0L418.5 191.2L418.8 195.8M400.4 163.5L401.5 168.1L401.7 175.0L401.5 177.6L396.9 183.1L397.1 185.0L393.4 186.1L388.8 185.9L384.2 185.9L381.9 186.6L378.5 184.5L375.3 185.4L374.1 189.6L372.3 188.2L370.9 189.1L367.9 191.2L365.8 191.0L364.2 181.7M397.1 185.0L398.5 188.0L399.4 190.0L397.6 193.5L396.9 195.8M399.4 190.0L401.5 193.5L401.0 195.8M374.1 189.6L374.3 193.5L373.9 195.8M365.8 191.0L367.0 193.5L366.5 195.8M359.4 191.2L359.4 195.8M359.4 191.2L365.8 191.0M359.4 191.2L353.6 189.3M444.5 144.3L446.1 148.5M446.4 148.7L448.9 149.1L452.1 147.3L453.3 146.1L451.0 143.8L455.6 142.7L458.8 142.9L462.5 144.8L468.7 149.1L472.8 149.4L475.1 149.6L475.6 150.8L477.2 150.8M472.8 149.4L474.0 147.3L476.1 147.3L476.3 148.5M477.4 147.3L475.6 145.0L476.1 142.7L471.9 140.4L470.3 138.1L471.2 133.9L468.9 130.7L468.0 127.9L467.1 125.6L468.9 124.9L472.8 126.7L476.3 125.1L478.4 127.9M449.1 133.4L450.3 131.6L453.3 131.6L457.9 131.1L463.2 130.7L468.9 130.7M463.2 130.7L460.6 136.4L455.1 139.4L455.6 142.7M455.1 139.4L450.5 142.0L448.0 141.1L447.5 139.9L446.6 140.1M447.5 139.9L450.1 137.6L448.7 136.7M447.5 141.1L447.5 143.8L446.4 148.5M464.3 178.7L465.2 176.4L467.5 176.4L472.6 176.9L475.1 177.1L476.7 174.6L478.8 173.6L485.5 172.7L492.4 170.4L494.0 165.8L492.9 164.2L486.9 163.7L484.6 160.7M485.5 172.7L488.0 178.3M492.9 164.2L494.2 160.7L494.9 159.5L495.6 159.1M482.7 159.3L483.7 159.8M454.7 175.0L451.0 177.3L449.6 181.9L449.8 183.6L448.9 187.3L446.4 191.2L444.8 192.1L444.8 195.8M449.8 183.6L453.0 182.2L455.6 182.9L459.7 183.8L463.4 187.7L462.0 190.0L464.6 191.2L464.8 195.8M464.6 191.2L465.2 190.0M468.9 124.9L468.2 123.0M472.8 126.7L469.4 123.0M489.9 130.4L492.4 128.8L497.5 128.4L501.6 130.0L505.1 132.1M426.4 123.0L427.0 121.9" fill="none" stroke="#333" stroke-opacity="0.55" stroke-width="0.35" stroke-linejoin="round"/>
<path d="M333.6 195.8L333.6 193.5L331.3 191.2L327.4 188.0L327.2 185.6L325.8 182.6L327.9 179.6L328.3 175.0L329.0 171.6L326.7 168.1L329.0 162.3L332.5 156.5L335.9 152.4L342.8 148.5L343.5 145.0L346.3 139.7L350.2 138.1L352.3 133.9L353.6 133.7L358.9 135.3L361.2 135.5L365.8 133.9L369.3 132.3L372.7 131.6L377.3 131.8L381.9 131.1L386.5 131.1L389.3 130.7L391.1 131.1L390.0 133.4L390.7 136.9L388.8 138.1L391.1 139.7L394.6 140.8L400.4 142.0L402.7 144.3L407.3 146.1L410.7 146.1L411.9 143.8L411.9 141.5L416.5 140.8L418.8 141.5L423.4 143.4L428.0 144.5L432.6 145.2L437.2 143.8L440.2 144.5L444.5 144.3L446.1 141.5L447.5 138.1L448.7 133.4L449.1 131.8L447.5 132.1L445.5 131.6L443.4 133.1L441.3 133.3L439.5 132.3L437.2 131.5L436.2 131.6L435.8 132.7L433.9 133.0L432.8 132.1L431.0 132.1L430.7 131.6L428.7 131.1L429.1 130.9L428.4 129.5L428.2 127.9L426.6 127.9L427.3 127.2L427.7 125.8L426.1 125.4L426.1 123.0M440.7 147.3L442.2 150.8L443.6 153.7L444.8 156.3L446.1 158.7L447.5 161.4L450.2 165.3L451.0 168.1L451.4 171.3L451.7 172.5L452.6 174.1L454.7 175.0L456.6 180.6L459.9 182.6L464.1 186.6L465.0 187.3L465.5 188.2L465.1 189.8L467.1 192.3L469.4 192.6L474.0 191.2L478.6 190.5L483.7 189.3L483.2 192.3L482.7 195.8M440.7 147.3L443.2 151.5L444.8 152.4L446.3 148.5L445.5 151.9L448.0 153.4L449.7 156.0L451.6 158.8L453.4 161.0L455.6 163.9L456.0 166.9L458.5 170.1L460.4 172.4L461.3 174.6L463.7 177.6L464.7 182.4L465.4 185.9L465.7 187.5L469.4 187.0L476.3 184.3L479.7 182.4L485.5 179.6L490.1 177.3L493.5 175.5L498.1 172.9L499.3 169.5L501.1 169.5L503.4 164.6L500.9 162.1L497.0 161.2L495.6 159.3L495.6 156.1L494.7 157.2L493.1 158.2L491.0 160.5L486.6 160.7L484.6 160.0L484.6 156.5L483.2 156.5L482.7 159.3L481.3 157.2L481.1 154.9L478.6 152.8L477.4 150.8L476.3 148.5L477.4 147.3L479.7 147.1L482.0 149.1L484.3 152.4L487.8 154.9L491.2 155.2L495.4 154.0L497.0 154.9L497.7 157.0L501.6 157.9L506.2 158.2M345.4 123.0L345.4 124.2L344.0 127.2L345.6 127.7L345.1 131.1L348.8 130.7L351.3 132.3L352.9 133.4L355.5 131.8L360.8 131.8L364.2 129.7L365.8 127.2L365.1 125.4L366.3 123.0M394.4 128.8L401.7 128.4L400.6 131.8L394.6 129.7ZM402.0 123.0L402.7 126.5L402.0 128.8L403.8 127.0L405.2 126.5L403.8 124.9L405.0 123.0M385.2 123.0L385.2 126.0L386.5 126.5L387.9 126.0L388.2 123.0M411.4 123.0L411.9 124.9L413.5 126.7L414.8 128.1L414.4 129.3L415.8 131.6L417.6 132.3L419.2 132.3L418.8 130.2L421.1 129.5L421.1 128.4L419.9 126.5L418.5 125.8L418.1 123.0M419.9 135.1L422.2 134.6L426.4 135.3L422.9 135.8ZM440.2 135.8L441.8 135.1L445.2 134.4L443.8 135.8L441.8 136.7ZM478.6 123.0L478.4 127.9L480.9 130.2L485.5 131.8L490.1 131.4L489.9 128.8L487.8 125.4L487.3 123.0M326.9 151.2L328.6 150.8M329.5 151.9L330.4 151.7M333.2 151.2L333.8 150.3M334.1 149.6L334.8 149.1M324.4 150.3L324.9 150.5M307.8 177.3L308.3 177.1M309.9 178.3L310.4 178.3M311.3 181.7L311.8 181.5M313.1 179.4L313.4 179.4M309.7 182.2L309.9 182.2M300.7 127.7L301.6 127.4M303.0 127.2L303.5 127.2M306.5 129.3L307.8 129.3M326.3 140.8L327.4 141.1M488.7 187.7L491.2 187.7M419.2 126.7L422.2 128.8M423.1 129.3L424.1 130.2M424.3 131.0L424.7 131.2M422.0 131.8L422.4 131.8M424.3 132.5L424.5 132.6M429.8 133.2L430.7 132.5M427.7 129.4L427.0 129.5M425.7 127.8L425.9 128.4M425.7 126.0L426.8 126.3M423.6 124.4L424.3 124.5M419.4 123.5L420.4 124.3M421.1 124.0L421.8 123.7M413.0 128.2L413.5 128.6M411.2 124.9L411.9 125.6M413.5 129.3L413.9 129.5M414.8 128.1L416.9 128.1L418.5 128.9M419.4 133.0L419.0 132.7M427.7 134.4L428.4 134.6M368.8 126.7L369.3 126.4M371.6 125.4L373.4 124.8L373.0 125.7L371.6 125.4M375.0 124.3L375.7 124.5M398.7 133.7L399.2 133.8M390.7 138.5L391.1 138.6" fill="none" stroke="#0a0a0a" stroke-width="0.7" stroke-linejoin="round" stroke-linecap="round"/>
<ellipse cx="398.5" cy="186.3" rx="0.9" ry="0.8" fill="#8d86c8" stroke="#333" stroke-width="0.3"/>
<path d="M384.7 169.3L405.5 169.3L408.1 167.8L447.5 167.8L450.7 166.0L457.1 166.0L469.3 156.0L476.3 148.8L476.5 145.5L471.2 139.2L468.6 132.8L467.4 131.3" fill="none" stroke="#f01414" stroke-width="1.3" stroke-linejoin="round"/>
<g stroke="#16221c" stroke-width="0.55">
<circle cx="319.7" cy="135.1" r="1.5" fill="#fde725"/>
<circle cx="332.9" cy="133.4" r="1.5" fill="#8fd744"/>
<circle cx="339.9" cy="125.4" r="1.5" fill="#bddf26"/>
<circle cx="316.2" cy="143.0" r="1.5" fill="#5ec962"/>
<circle cx="302.4" cy="149.7" r="1.5" fill="#35b779"/>
<circle cx="324.6" cy="151.4" r="1.5" fill="#26828e"/>
<circle cx="356.8" cy="142.4" r="1.5" fill="#1f9e89"/>
<circle cx="343.7" cy="150.1" r="1.5" fill="#bddf26"/>
<circle cx="345.7" cy="150.1" r="1.5" fill="#bddf26"/>
<circle cx="304.1" cy="161.1" r="1.5" fill="#5ec962"/>
<circle cx="308.9" cy="158.8" r="1.5" fill="#5ec962"/>
<circle cx="312.8" cy="157.9" r="1.5" fill="#5ec962"/>
<circle cx="337.4" cy="163.0" r="1.5" fill="#35b779"/>
<circle cx="340.2" cy="170.3" r="1.5" fill="#28ae80"/>
<circle cx="339.0" cy="172.6" r="1.5" fill="#28ae80"/>
<circle cx="348.2" cy="171.4" r="1.5" fill="#26828e"/>
<circle cx="318.2" cy="183.5" r="1.5" fill="#fde725"/>
<circle cx="335.0" cy="186.3" r="1.5" fill="#3e4989"/>
<circle cx="313.0" cy="192.5" r="1.5" fill="#1f9e89"/>
<circle cx="356.5" cy="191.2" r="1.5" fill="#1f9e89"/>
<circle cx="372.3" cy="128.7" r="1.5" fill="#bddf26"/>
<circle cx="361.1" cy="133.4" r="1.5" fill="#1f9e89"/>
<circle cx="369.7" cy="135.4" r="1.5" fill="#35b779"/>
<circle cx="380.6" cy="131.9" r="1.5" fill="#8fd744"/>
<circle cx="386.7" cy="125.4" r="1.5" fill="#bddf26"/>
<circle cx="404.3" cy="125.8" r="1.5" fill="#8fd744"/>
<circle cx="397.6" cy="143.7" r="1.5" fill="#bddf26"/>
<circle cx="410.7" cy="144.7" r="1.5" fill="#fde725"/>
<circle cx="415.1" cy="137.3" r="1.5" fill="#bddf26"/>
<circle cx="374.6" cy="160.9" r="1.5" fill="#35b779"/>
<circle cx="382.5" cy="158.6" r="1.5" fill="#5ec962"/>
<circle cx="410.4" cy="166.6" r="1.5" fill="#35b779"/>
<circle cx="390.8" cy="173.7" r="1.5" fill="#35b779"/>
<circle cx="397.9" cy="180.1" r="1.5" fill="#28ae80"/>
<circle cx="376.8" cy="185.4" r="1.5" fill="#35b779"/>
<circle cx="398.9" cy="188.6" r="1.5" fill="#28ae80"/>
<circle cx="442.4" cy="133.4" r="1.5" fill="#bddf26"/>
<circle cx="447.1" cy="137.0" r="1.5" fill="#35b779"/>
<circle cx="443.7" cy="143.7" r="1.5" fill="#35b779"/>
<circle cx="464.8" cy="153.9" r="1.5" fill="#5ec962"/>
<circle cx="429.6" cy="157.3" r="1.5" fill="#bddf26"/>
<circle cx="427.9" cy="162.0" r="1.5" fill="#fde725"/>
<circle cx="428.3" cy="169.4" r="1.5" fill="#fde725"/>
<circle cx="441.1" cy="189.5" r="1.5" fill="#28ae80"/>
<circle cx="447.9" cy="189.5" r="1.5" fill="#5ec962"/>
<circle cx="462.2" cy="189.5" r="1.5" fill="#1f9e89"/>
<circle cx="483.0" cy="165.6" r="1.5" fill="#1f9e89"/>
<circle cx="496.2" cy="168.8" r="1.5" fill="#8fd744"/>
<circle cx="497.1" cy="175.2" r="1.5" fill="#8fd744"/>
</g>
</g>
<rect x="296.8" y="124.2" width="207.10" height="69.30" fill="none" stroke="#111" stroke-width="0.9"/>
<g font-size="5.6" fill="#222" text-anchor="end">
<text x="294.2" y="137.75">35°N</text>
<text x="294.2" y="149.30">30°N</text>
<text x="294.2" y="160.85">25°N</text>
<text x="294.2" y="172.40">20°N</text>
<text x="294.2" y="183.95">15°N</text>
</g><g font-size="5.6" fill="#222" text-anchor="middle">
<text x="319.81" y="200.35">20°W</text>
<text x="365.83" y="200.35">0°</text>
<text x="411.86" y="200.35">20°E</text>
<text x="457.88" y="200.35">40°E</text>
</g>
<path d="M366.1 209.8H389.2M412.3 209.8H435.4" stroke="#000" stroke-width="1.9" fill="none"/>
<g font-size="4.75" fill="#111" text-anchor="middle"><text x="366.3" y="207.6">0</text><text x="389.2" y="207.6">1000</text><text x="411.6" y="207.6">2000</text><text x="435.4" y="207.6">3000</text></g>
<text x="400.9" y="218.2" font-size="5.95" text-anchor="middle" fill="#111">Kilometers</text>
<rect x="438" y="202.5" width="8.6" height="14" fill="#fff"/>
<path d="M441.85 203L437.5 212L442 208.6Z" fill="#fff" stroke="#666" stroke-width="0.45" stroke-linejoin="round"/>
<path d="M441.85 203L446.3 211.7L442 208.6Z" fill="#000" stroke="#000" stroke-width="0.35" stroke-linejoin="round"/>
<text x="441.9" y="216.2" font-size="4.5" text-anchor="middle" fill="#222">N</text>
<rect x="517" y="91.35" width="6.9" height="134.50" fill="#86509c"/>
<rect x="517" y="102.56" width="6.9" height="123.29" fill="#7d69a8"/>
<rect x="517" y="113.77" width="6.9" height="112.08" fill="#747db0"/>
<rect x="517" y="124.97" width="6.9" height="100.88" fill="#6d8cb2"/>
<rect x="517" y="136.18" width="6.9" height="89.67" fill="#699bb2"/>
<rect x="517" y="147.39" width="6.9" height="78.46" fill="#63a9b1"/>
<rect x="517" y="158.60" width="6.9" height="67.25" fill="#5fb8ad"/>
<rect x="517" y="169.81" width="6.9" height="56.04" fill="#66c7a5"/>
<rect x="517" y="181.02" width="6.9" height="44.83" fill="#80d594"/>
<rect x="517" y="192.22" width="6.9" height="33.62" fill="#9fe083"/>
<rect x="517" y="203.43" width="6.9" height="22.42" fill="#bfe672"/>
<rect x="517" y="214.64" width="6.9" height="11.21" fill="#f8ee52"/>
<rect x="517" y="91.35" width="6.9" height="134.50" fill="none" stroke="#1a1a1a" stroke-width="0.95"/>
<path d="M524.3 225.85h2M524.3 192.22h2M524.3 158.60h2M524.3 124.97h2M524.3 91.35h2" stroke="#222" stroke-width="0.6" fill="none"/>
<g class="tk" style="font-size:5.5px">
<text x="528" y="228.30">0</text>
<text x="528" y="194.67">15</text>
<text x="528" y="161.05">30</text>
<text x="528" y="127.42">45</text>
<text x="528" y="93.80">60</text>
</g>
<text transform="translate(544.8 158.9) rotate(-90)" font-size="7.09" text-anchor="middle" fill="#222">IWV (kg m<tspan font-size="4.9" dy="-1.7">−2</tspan><tspan dy="1.7">)</tspan></text>
</g>
</svg></body></html>
